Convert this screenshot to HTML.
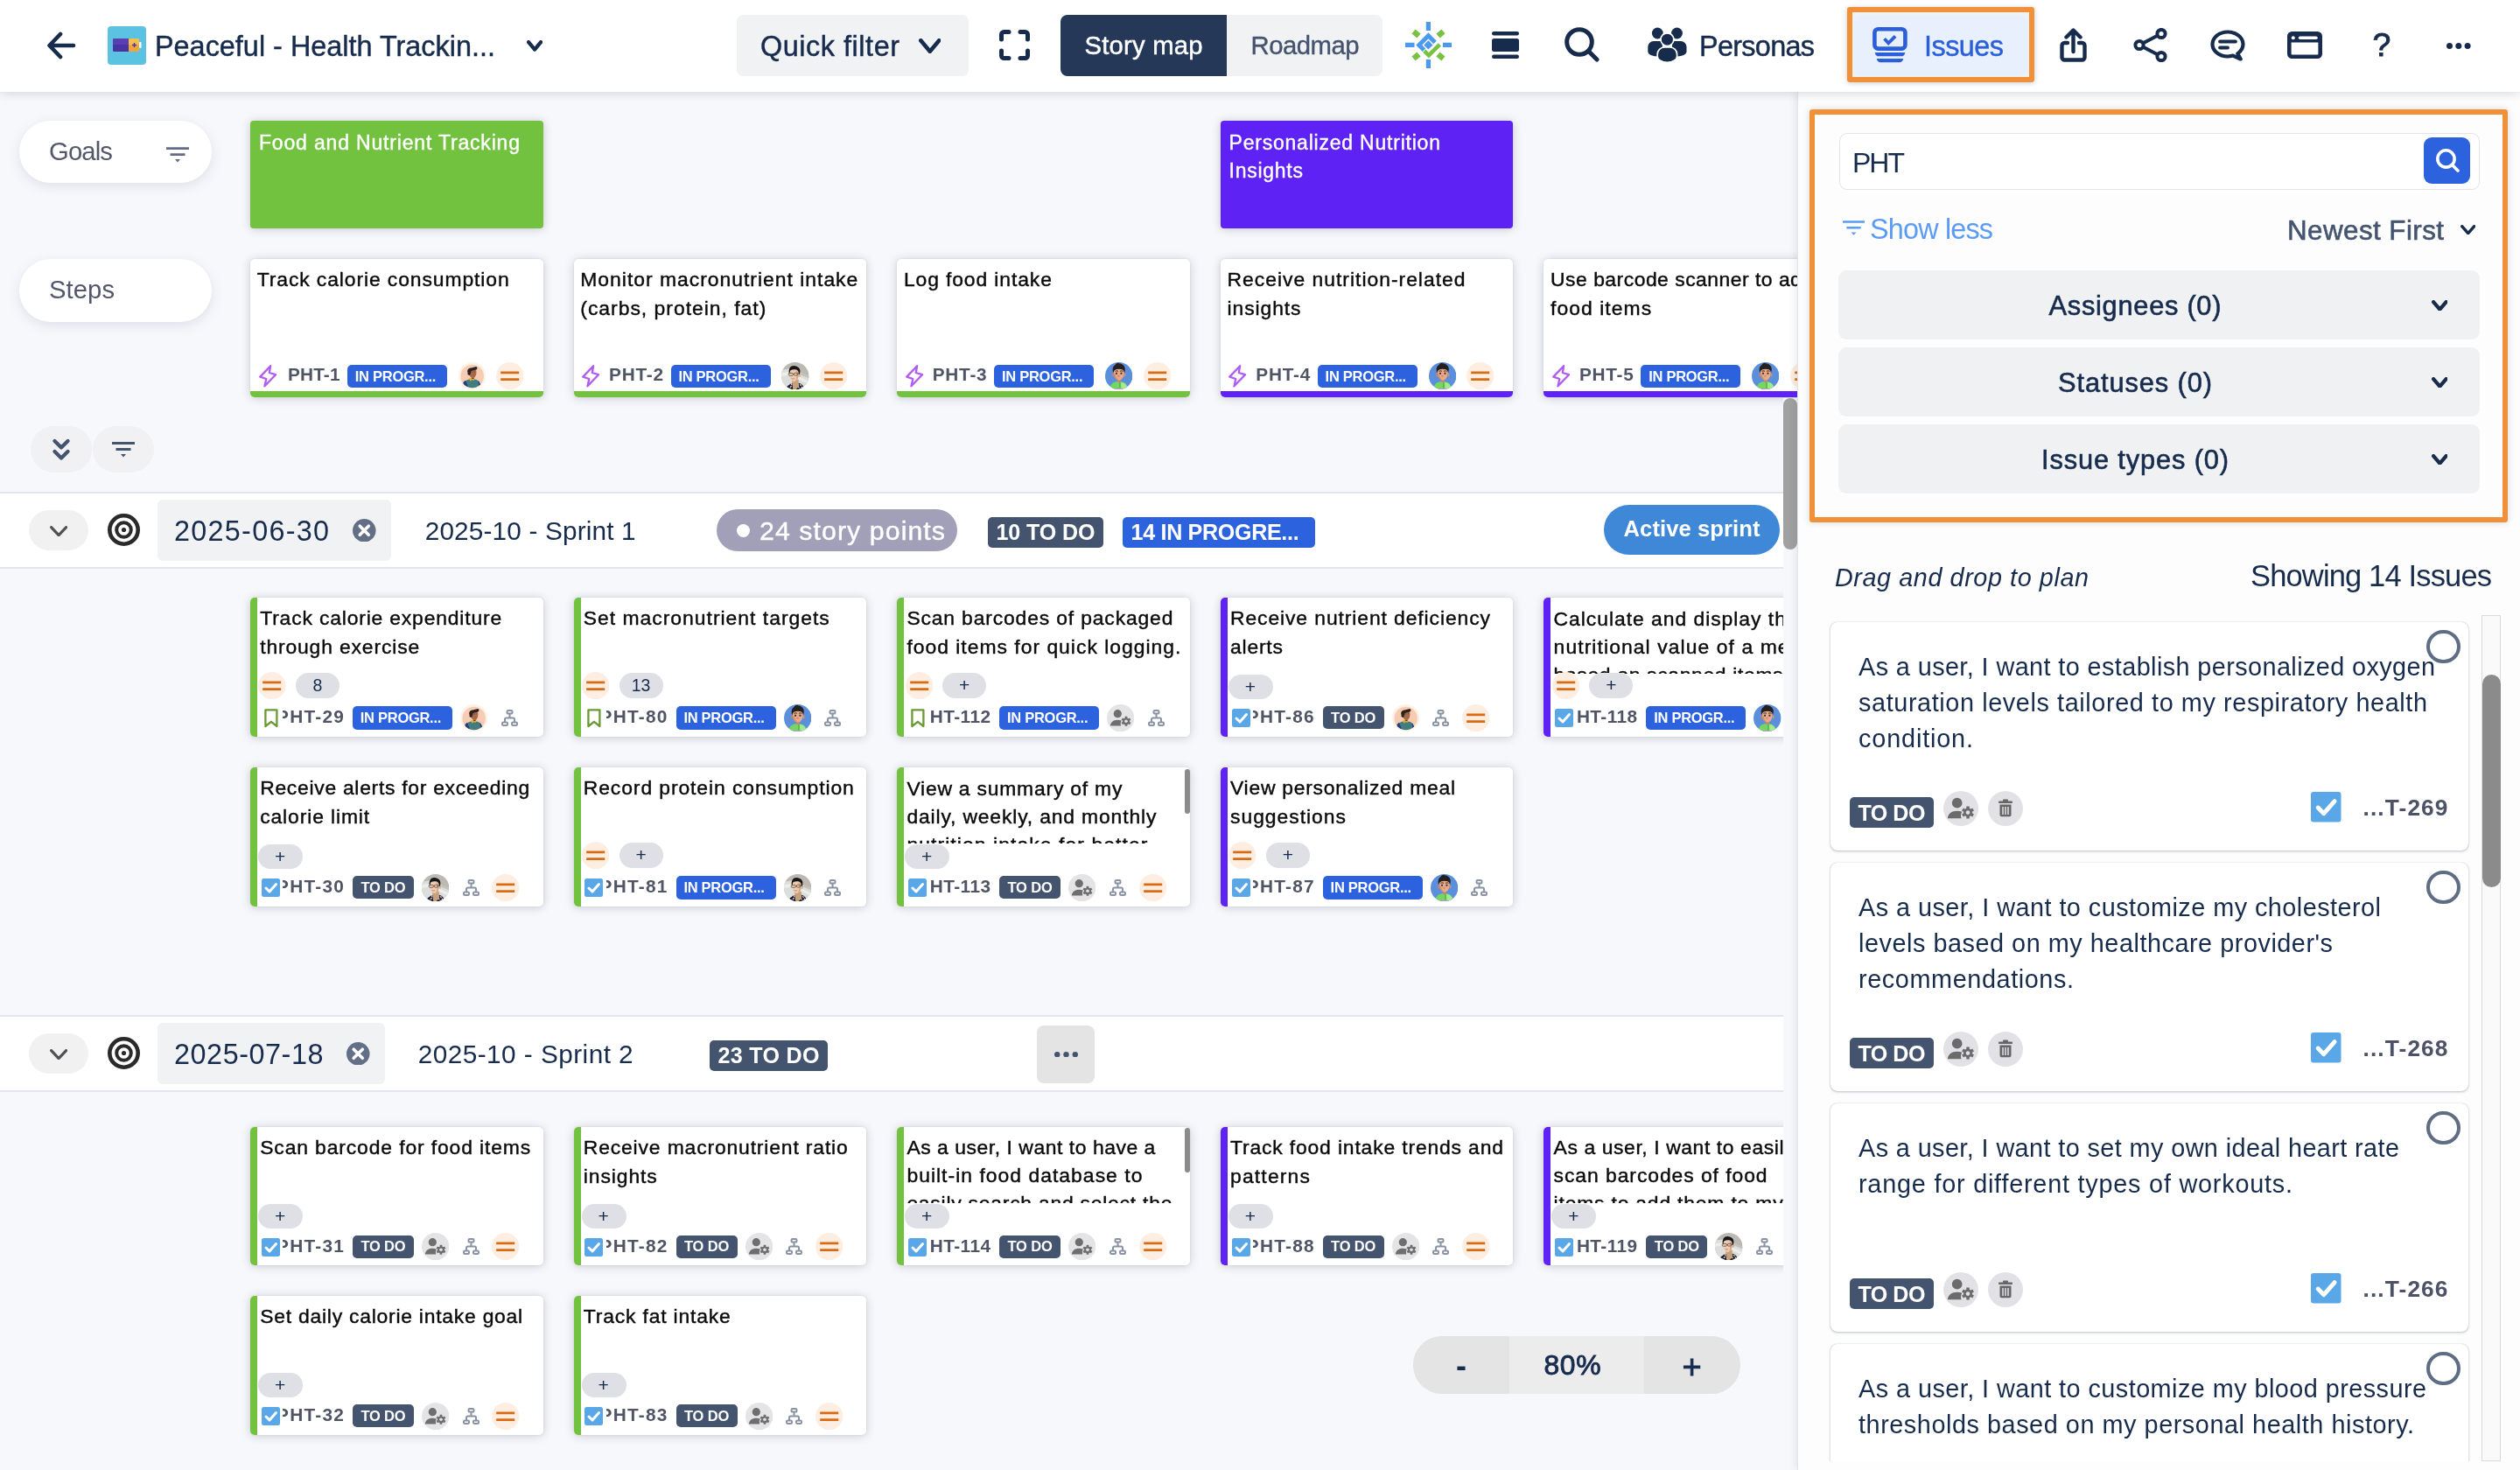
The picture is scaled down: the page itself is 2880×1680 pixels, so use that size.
<!DOCTYPE html>
<html lang="en"><head><meta charset="utf-8"><title>Story map - Peaceful - Health Tracking</title>
<style>
html,body{margin:0;padding:0;overflow:hidden}
@media (max-width:2000px){#root{transform:scale(.5);transform-origin:0 0}}
body{width:2880px;height:1680px;overflow:hidden;position:relative;background:#f7f8fc;font-family:"Liberation Sans", sans-serif;}
.a{position:absolute;display:block}
.t{position:absolute;white-space:nowrap}
#root{position:absolute;left:0;top:0;width:2880px;height:1680px;overflow:hidden;will-change:transform}
</style></head><body>
<div id="root">
<div class="a" style="left:22.0px;top:138.0px;width:220.0px;height:71.3px;background:#fff;border-radius:36px;box-shadow:0 4px 14px rgba(60,70,110,.13);"></div>
<div class="t" style="top:159.33px;font-size:29.259999999999998px;line-height:29.259999999999998px;color:#53576b;letter-spacing:-0.855px;left:56.0px;">Goals</div>
<svg class="a" style="left:190.0px;top:168.0px;" width="26.0" height="18.0" viewBox="0 0 26 18.0"><path d="M0 1.6H26.0M4.5 8.6H21.5" stroke="#626d86" stroke-width="2.7"/><path d="M10.0 14.0h6.0l-3.0 3.5z" fill="#626d86"/></svg>
<div class="a" style="left:22.0px;top:296.0px;width:220.0px;height:72.0px;background:#fff;border-radius:36px;box-shadow:0 4px 14px rgba(60,70,110,.13);"></div>
<div class="t" style="top:317.43px;font-size:29.259999999999998px;line-height:29.259999999999998px;color:#53576b;letter-spacing:0.051px;left:56.0px;">Steps</div>
<div class="a" style="left:286.0px;top:138.0px;width:334.5px;height:123.0px;background:#72c240;border-radius:4px;box-shadow:0 1px 11px rgba(30,35,60,.22), 0 0 2px rgba(30,35,60,.10);"></div>
<div class="t" style="top:151.93px;font-size:23px;line-height:23px;color:#fff;letter-spacing:0.823px;left:296.0px;-webkit-text-stroke:0.4px currentColor;">Food and Nutrient Tracking</div>
<div class="a" style="left:1394.8px;top:138.0px;width:334.5px;height:123.0px;background:#5e22f4;border-radius:4px;box-shadow:0 1px 11px rgba(30,35,60,.22), 0 0 2px rgba(30,35,60,.10);"></div>
<div class="t" style="top:151.93px;font-size:23px;line-height:23px;color:#fff;letter-spacing:0.785px;left:1404.5px;-webkit-text-stroke:0.4px currentColor;">Personalized Nutrition</div>
<div class="t" style="top:184.33px;font-size:23px;line-height:23px;color:#fff;letter-spacing:0.748px;left:1404.5px;-webkit-text-stroke:0.4px currentColor;">Insights</div>
<div class="a" style="left:286.0px;top:296.0px;width:334.5px;height:158.0px;background:#fff;border-radius:5px;box-shadow:0 1px 11px rgba(30,35,60,.22), 0 0 2px rgba(30,35,60,.10);overflow:hidden;"><div class="a" style="left:0;bottom:0;width:100%;height:7px;background:#72c240"></div></div>
<div class="t" style="top:308.02px;font-size:22.9px;line-height:22.9px;color:#0a0a0a;letter-spacing:0.903px;left:293.7px;-webkit-text-stroke:0.4px currentColor;">Track calorie consumption</div>
<svg class="a" style="left:295.5px;top:417.0px;" width="21.0" height="26.0" viewBox="0 0 21 26"><path d="M13.100 1.200L1.300 13.600L8.300 16L6.500 24.300L19 11.200L11.800 9Z" fill="none" stroke="#b05cf0" stroke-width="2.300" stroke-linejoin="round"/></svg>
<div class="t" style="top:418.19px;font-size:20.8px;line-height:20.8px;color:#505565;font-weight:700;letter-spacing:0.137px;left:329.0px;">PHT-1</div>
<div class="a" style="left:397.0px;top:417.0px;width:114.0px;height:26.0px;background:#2c62dd;border-radius:5px;"></div>
<div class="t" style="top:421.89px;font-size:16.5px;line-height:16.5px;color:#fff;font-weight:700;letter-spacing:-0.284px;left:405.8px;">IN PROGR...</div>
<svg class="a" style="left:523.7px;top:413.7px;" width="31.4" height="31.4" viewBox="148 156 1144 1144"><defs><clipPath id="a1"><circle cx="720" cy="738" r="482"/></clipPath></defs><circle cx="720" cy="728" r="572" fill="#fdf2e6"/><circle cx="720" cy="738" r="482" fill="#f7ccb2"/><g clip-path="url(#a1)"><path d="M300 1300C310 1040 420 890 620 870L820 870C980 890 1060 1000 1100 1300Z" fill="#417d80"/><path d="M300 1100C340 1000 390 940 440 915L540 1160L420 1230Z" fill="#2b3b80"/><path d="M960 915C1010 960 1050 1040 1070 1120L1000 1130Z" fill="#2b3b80"/><path d="M580 850L650 950L710 885L780 925L830 850L760 810L640 810Z" fill="#e6aa30"/><path d="M690 800L800 800L770 850L720 850Z" fill="#3a2a22"/><path d="M640 500C700 460 820 450 880 480C900 560 900 640 860 720C830 790 780 830 720 820C660 800 610 730 600 660C610 600 620 540 640 500Z" fill="#a9694a"/><path d="M690 560h60M790 550h50" stroke="#3a2a22" stroke-width="14"/><path d="M760 700c30 10 60 0 80-15" stroke="#8a4f38" stroke-width="12" fill="none"/><path d="M520 560C510 470 560 410 650 395C740 385 800 350 870 335C920 340 940 370 925 420C905 460 880 480 820 485C760 490 700 505 675 530C665 590 660 640 620 700C570 700 540 680 525 640C545 620 530 590 520 560Z" fill="#2a221e"/></g></svg>
<svg class="a" style="left:567.3px;top:413.7px;" width="31.4" height="31.4" viewBox="0 0 31.4 31.4"><circle cx="15.7" cy="15.7" r="15.7" fill="#fdeee1"/><path d="M5.199999999999999 11.799999999999999H26.2M5.199999999999999 19.599999999999998H26.2" stroke="#d96b14" stroke-width="2.700"/></svg>
<div class="a" style="left:655.6px;top:296.0px;width:334.5px;height:158.0px;background:#fff;border-radius:5px;box-shadow:0 1px 11px rgba(30,35,60,.22), 0 0 2px rgba(30,35,60,.10);overflow:hidden;"><div class="a" style="left:0;bottom:0;width:100%;height:7px;background:#72c240"></div></div>
<div class="t" style="top:308.02px;font-size:22.9px;line-height:22.9px;color:#0a0a0a;letter-spacing:0.997px;left:663.3px;-webkit-text-stroke:0.4px currentColor;">Monitor macronutrient intake</div>
<div class="t" style="top:341.02px;font-size:22.9px;line-height:22.9px;color:#0a0a0a;letter-spacing:0.995px;left:663.3px;-webkit-text-stroke:0.4px currentColor;">(carbs, protein, fat)</div>
<svg class="a" style="left:665.1px;top:417.0px;" width="21.0" height="26.0" viewBox="0 0 21 26"><path d="M13.100 1.200L1.300 13.600L8.300 16L6.500 24.300L19 11.200L11.800 9Z" fill="none" stroke="#b05cf0" stroke-width="2.300" stroke-linejoin="round"/></svg>
<div class="t" style="top:418.19px;font-size:20.8px;line-height:20.8px;color:#505565;font-weight:700;letter-spacing:0.762px;left:696.1px;">PHT-2</div>
<div class="a" style="left:766.6px;top:417.0px;width:114.0px;height:26.0px;background:#2c62dd;border-radius:5px;"></div>
<div class="t" style="top:421.89px;font-size:16.5px;line-height:16.5px;color:#fff;font-weight:700;letter-spacing:-0.284px;left:775.4px;">IN PROGR...</div>
<svg class="a" style="left:893.3px;top:413.7px;" width="31.4" height="31.4" viewBox="147 147 1176 1176"><defs><clipPath id="b2"><circle cx="735" cy="735" r="588"/></clipPath></defs><g clip-path="url(#b2)"><rect x="140" y="140" width="1200" height="1200" fill="#bbb9b2"/><path d="M140 480L520 420L1340 760L1340 1340L140 1340Z" fill="#dcdedb"/><path d="M140 600L500 560L1340 980L1340 1100L480 700L140 740Z" fill="#eceeeb"/><path d="M980 700L1340 840L1340 760L1000 600Z" fill="#c4c2bb"/><path d="M340 1340C350 1180 450 1090 600 1050L900 1040C1040 1080 1110 1180 1130 1340Z" fill="#22202c"/><path d="M420 1130l70-50M520 1230l60-70M560 1060l40 60M930 1100l70 40M1000 1200l60 30M860 1180l50 60M440 1260l50 40" stroke="#e9e6ee" stroke-width="42"/><path d="M600 930L880 880L900 1180L760 1320L640 1300Z" fill="#c9a07c"/><path d="M900 620c50-10 80 30 70 90c-10 50-40 80-70 70z" fill="#d9ae8e"/><path d="M500 560C500 470 600 420 720 430C840 440 910 520 900 640C890 800 820 960 690 970C580 960 500 820 490 700Z" fill="#eccbb0"/><path d="M760 500C860 520 900 600 890 700C880 820 820 930 740 960C800 860 820 700 760 500Z" fill="#d6a988"/><path d="M480 640C450 520 480 380 580 320C680 270 820 300 900 390C960 450 960 560 930 660L890 650C890 560 860 500 790 470C700 450 600 460 540 490C510 530 510 590 500 640Z" fill="#17161a"/><g fill="none" stroke="#4b3c37" stroke-width="26"><rect x="455" y="612" width="190" height="105" rx="36"/><rect x="690" y="610" width="150" height="100" rx="34"/><path d="M645 650h45M840 640l70-10"/></g><path d="M580 840c40 25 90 25 130 0" stroke="#c9707a" stroke-width="30" fill="none"/></g></svg>
<svg class="a" style="left:936.9px;top:413.7px;" width="31.4" height="31.4" viewBox="0 0 31.4 31.4"><circle cx="15.7" cy="15.7" r="15.7" fill="#fdeee1"/><path d="M5.199999999999999 11.799999999999999H26.2M5.199999999999999 19.599999999999998H26.2" stroke="#d96b14" stroke-width="2.700"/></svg>
<div class="a" style="left:1025.2px;top:296.0px;width:334.5px;height:158.0px;background:#fff;border-radius:5px;box-shadow:0 1px 11px rgba(30,35,60,.22), 0 0 2px rgba(30,35,60,.10);overflow:hidden;"><div class="a" style="left:0;bottom:0;width:100%;height:7px;background:#72c240"></div></div>
<div class="t" style="top:308.02px;font-size:22.9px;line-height:22.9px;color:#0a0a0a;letter-spacing:0.890px;left:1032.9px;-webkit-text-stroke:0.4px currentColor;">Log food intake</div>
<svg class="a" style="left:1034.7px;top:417.0px;" width="21.0" height="26.0" viewBox="0 0 21 26"><path d="M13.100 1.200L1.300 13.600L8.300 16L6.500 24.300L19 11.200L11.800 9Z" fill="none" stroke="#b05cf0" stroke-width="2.300" stroke-linejoin="round"/></svg>
<div class="t" style="top:418.19px;font-size:20.8px;line-height:20.8px;color:#505565;font-weight:700;letter-spacing:0.762px;left:1065.7px;">PHT-3</div>
<div class="a" style="left:1136.2px;top:417.0px;width:114.0px;height:26.0px;background:#2c62dd;border-radius:5px;"></div>
<div class="t" style="top:421.89px;font-size:16.5px;line-height:16.5px;color:#fff;font-weight:700;letter-spacing:-0.284px;left:1145.0px;">IN PROGR...</div>
<svg class="a" style="left:1262.9px;top:413.7px;" width="31.4" height="31.4" viewBox="177 157 1156 1156"><defs><clipPath id="c3"><circle cx="755" cy="735" r="578"/></clipPath></defs><g clip-path="url(#c3)"><rect x="170" y="150" width="1180" height="1180" fill="#5b8fdb"/><path d="M500 1340C510 1280 540 1250 600 1240L920 1240C980 1250 1010 1280 1020 1340Z" fill="#cf8ae6"/><path d="M590 1000L760 940L910 1000L900 1040L600 1040Z" fill="#c98be2"/><path d="M390 1250C400 1100 480 1010 620 990L890 990C1030 1010 1100 1100 1110 1250C1000 1270 500 1270 390 1250Z" fill="#74d760"/><path d="M840 1000C1000 1010 1090 1100 1105 1250C1040 1262 950 1266 860 1268Z" fill="#a2ea8f"/><path d="M800 1000v250" stroke="#4fa14a" stroke-width="36"/><path d="M700 870h130v110l-65 40l-65-40z" fill="#c88661"/><ellipse cx="505" cy="690" rx="38" ry="72" fill="#cf7f58"/><ellipse cx="1005" cy="690" rx="38" ry="72" fill="#d98d65"/><path d="M545 560C545 450 640 400 760 400C880 400 975 450 975 560C975 760 900 910 760 915C620 910 545 760 545 560Z" fill="#e9aa88"/><path d="M560 640C540 800 640 910 760 915C700 880 620 800 600 640Z" fill="#d58f6c"/><path d="M520 600C470 470 500 330 600 270C640 200 720 170 760 200C860 200 960 260 1000 360C1030 450 1010 540 990 600L960 520C930 470 880 440 760 440C650 440 590 470 555 520Z" fill="#222021"/><path d="M600 540c40-25 90-25 130 0M800 540c40-25 90-25 130 0" stroke="#2a201c" stroke-width="34" fill="none"/><rect x="618" y="588" width="76" height="74" rx="14" fill="#3a3236"/><rect x="818" y="588" width="76" height="74" rx="14" fill="#3a3236"/><ellipse cx="745" cy="735" rx="50" ry="32" fill="#dc8166"/></g></svg>
<svg class="a" style="left:1306.5px;top:413.7px;" width="31.4" height="31.4" viewBox="0 0 31.4 31.4"><circle cx="15.7" cy="15.7" r="15.7" fill="#fdeee1"/><path d="M5.199999999999999 11.799999999999999H26.2M5.199999999999999 19.599999999999998H26.2" stroke="#d96b14" stroke-width="2.700"/></svg>
<div class="a" style="left:1394.8px;top:296.0px;width:334.5px;height:158.0px;background:#fff;border-radius:5px;box-shadow:0 1px 11px rgba(30,35,60,.22), 0 0 2px rgba(30,35,60,.10);overflow:hidden;"><div class="a" style="left:0;bottom:0;width:100%;height:7px;background:#5e22f4"></div></div>
<div class="t" style="top:308.02px;font-size:22.9px;line-height:22.9px;color:#0a0a0a;letter-spacing:0.995px;left:1402.5px;-webkit-text-stroke:0.4px currentColor;">Receive nutrition-related</div>
<div class="t" style="top:341.02px;font-size:22.9px;line-height:22.9px;color:#0a0a0a;letter-spacing:0.911px;left:1402.5px;-webkit-text-stroke:0.4px currentColor;">insights</div>
<svg class="a" style="left:1404.3px;top:417.0px;" width="21.0" height="26.0" viewBox="0 0 21 26"><path d="M13.100 1.200L1.300 13.600L8.300 16L6.500 24.300L19 11.200L11.800 9Z" fill="none" stroke="#b05cf0" stroke-width="2.300" stroke-linejoin="round"/></svg>
<div class="t" style="top:418.19px;font-size:20.8px;line-height:20.8px;color:#505565;font-weight:700;letter-spacing:0.762px;left:1435.3px;">PHT-4</div>
<div class="a" style="left:1505.8px;top:417.0px;width:114.0px;height:26.0px;background:#2c62dd;border-radius:5px;"></div>
<div class="t" style="top:421.89px;font-size:16.5px;line-height:16.5px;color:#fff;font-weight:700;letter-spacing:-0.284px;left:1514.6px;">IN PROGR...</div>
<svg class="a" style="left:1632.5px;top:413.7px;" width="31.4" height="31.4" viewBox="177 157 1156 1156"><defs><clipPath id="c4"><circle cx="755" cy="735" r="578"/></clipPath></defs><g clip-path="url(#c4)"><rect x="170" y="150" width="1180" height="1180" fill="#5b8fdb"/><path d="M500 1340C510 1280 540 1250 600 1240L920 1240C980 1250 1010 1280 1020 1340Z" fill="#cf8ae6"/><path d="M590 1000L760 940L910 1000L900 1040L600 1040Z" fill="#c98be2"/><path d="M390 1250C400 1100 480 1010 620 990L890 990C1030 1010 1100 1100 1110 1250C1000 1270 500 1270 390 1250Z" fill="#74d760"/><path d="M840 1000C1000 1010 1090 1100 1105 1250C1040 1262 950 1266 860 1268Z" fill="#a2ea8f"/><path d="M800 1000v250" stroke="#4fa14a" stroke-width="36"/><path d="M700 870h130v110l-65 40l-65-40z" fill="#c88661"/><ellipse cx="505" cy="690" rx="38" ry="72" fill="#cf7f58"/><ellipse cx="1005" cy="690" rx="38" ry="72" fill="#d98d65"/><path d="M545 560C545 450 640 400 760 400C880 400 975 450 975 560C975 760 900 910 760 915C620 910 545 760 545 560Z" fill="#e9aa88"/><path d="M560 640C540 800 640 910 760 915C700 880 620 800 600 640Z" fill="#d58f6c"/><path d="M520 600C470 470 500 330 600 270C640 200 720 170 760 200C860 200 960 260 1000 360C1030 450 1010 540 990 600L960 520C930 470 880 440 760 440C650 440 590 470 555 520Z" fill="#222021"/><path d="M600 540c40-25 90-25 130 0M800 540c40-25 90-25 130 0" stroke="#2a201c" stroke-width="34" fill="none"/><rect x="618" y="588" width="76" height="74" rx="14" fill="#3a3236"/><rect x="818" y="588" width="76" height="74" rx="14" fill="#3a3236"/><ellipse cx="745" cy="735" rx="50" ry="32" fill="#dc8166"/></g></svg>
<svg class="a" style="left:1676.1px;top:413.7px;" width="31.4" height="31.4" viewBox="0 0 31.4 31.4"><circle cx="15.7" cy="15.7" r="15.7" fill="#fdeee1"/><path d="M5.199999999999999 11.799999999999999H26.2M5.199999999999999 19.599999999999998H26.2" stroke="#d96b14" stroke-width="2.700"/></svg>
<div class="a" style="left:1764.4px;top:296.0px;width:334.5px;height:158.0px;background:#fff;border-radius:5px;box-shadow:0 1px 11px rgba(30,35,60,.22), 0 0 2px rgba(30,35,60,.10);overflow:hidden;"><div class="a" style="left:0;bottom:0;width:100%;height:7px;background:#5e22f4"></div></div>
<div class="t" style="top:308.02px;font-size:22.9px;line-height:22.9px;color:#0a0a0a;letter-spacing:0.496px;left:1772.1px;-webkit-text-stroke:0.4px currentColor;">Use barcode scanner to add</div>
<div class="t" style="top:341.02px;font-size:22.9px;line-height:22.9px;color:#0a0a0a;letter-spacing:1.043px;left:1772.1px;-webkit-text-stroke:0.4px currentColor;">food items</div>
<svg class="a" style="left:1773.9px;top:417.0px;" width="21.0" height="26.0" viewBox="0 0 21 26"><path d="M13.100 1.200L1.300 13.600L8.300 16L6.500 24.300L19 11.200L11.800 9Z" fill="none" stroke="#b05cf0" stroke-width="2.300" stroke-linejoin="round"/></svg>
<div class="t" style="top:418.19px;font-size:20.8px;line-height:20.8px;color:#505565;font-weight:700;letter-spacing:0.762px;left:1804.9px;">PHT-5</div>
<div class="a" style="left:1875.4px;top:417.0px;width:114.0px;height:26.0px;background:#2c62dd;border-radius:5px;"></div>
<div class="t" style="top:421.89px;font-size:16.5px;line-height:16.5px;color:#fff;font-weight:700;letter-spacing:-0.284px;left:1884.2px;">IN PROGR...</div>
<svg class="a" style="left:2002.1px;top:413.7px;" width="31.4" height="31.4" viewBox="177 157 1156 1156"><defs><clipPath id="c5"><circle cx="755" cy="735" r="578"/></clipPath></defs><g clip-path="url(#c5)"><rect x="170" y="150" width="1180" height="1180" fill="#5b8fdb"/><path d="M500 1340C510 1280 540 1250 600 1240L920 1240C980 1250 1010 1280 1020 1340Z" fill="#cf8ae6"/><path d="M590 1000L760 940L910 1000L900 1040L600 1040Z" fill="#c98be2"/><path d="M390 1250C400 1100 480 1010 620 990L890 990C1030 1010 1100 1100 1110 1250C1000 1270 500 1270 390 1250Z" fill="#74d760"/><path d="M840 1000C1000 1010 1090 1100 1105 1250C1040 1262 950 1266 860 1268Z" fill="#a2ea8f"/><path d="M800 1000v250" stroke="#4fa14a" stroke-width="36"/><path d="M700 870h130v110l-65 40l-65-40z" fill="#c88661"/><ellipse cx="505" cy="690" rx="38" ry="72" fill="#cf7f58"/><ellipse cx="1005" cy="690" rx="38" ry="72" fill="#d98d65"/><path d="M545 560C545 450 640 400 760 400C880 400 975 450 975 560C975 760 900 910 760 915C620 910 545 760 545 560Z" fill="#e9aa88"/><path d="M560 640C540 800 640 910 760 915C700 880 620 800 600 640Z" fill="#d58f6c"/><path d="M520 600C470 470 500 330 600 270C640 200 720 170 760 200C860 200 960 260 1000 360C1030 450 1010 540 990 600L960 520C930 470 880 440 760 440C650 440 590 470 555 520Z" fill="#222021"/><path d="M600 540c40-25 90-25 130 0M800 540c40-25 90-25 130 0" stroke="#2a201c" stroke-width="34" fill="none"/><rect x="618" y="588" width="76" height="74" rx="14" fill="#3a3236"/><rect x="818" y="588" width="76" height="74" rx="14" fill="#3a3236"/><ellipse cx="745" cy="735" rx="50" ry="32" fill="#dc8166"/></g></svg>
<svg class="a" style="left:2045.7px;top:413.7px;" width="31.4" height="31.4" viewBox="0 0 31.4 31.4"><circle cx="15.7" cy="15.7" r="15.7" fill="#fdeee1"/><path d="M5.199999999999999 11.799999999999999H26.2M5.199999999999999 19.599999999999998H26.2" stroke="#d96b14" stroke-width="2.700"/></svg>
<div class="a" style="left:35.0px;top:487.0px;width:70.0px;height:53.0px;background:#f1f1f3;border-radius:27px;"></div>
<svg class="a" style="left:60.0px;top:500.5px;" width="20.0" height="26.0" viewBox="0 0 20 26"><path d="M2.500 3L10 10.500L17.500 3M2.500 15L10 22.500L17.500 15" fill="none" stroke="#44546f" stroke-width="4.2" stroke-linecap="round" stroke-linejoin="round"/></svg>
<div class="a" style="left:106.0px;top:487.0px;width:70.0px;height:53.0px;background:#f1f1f3;border-radius:27px;"></div>
<svg class="a" style="left:128.0px;top:505.0px;" width="26.0" height="18.0" viewBox="0 0 26 18.0"><path d="M0 1.6H26.0M4.5 8.6H21.5" stroke="#44546f" stroke-width="3"/><path d="M10.0 14.0h6.0l-3.0 3.5z" fill="#44546f"/></svg>
<div class="a" style="left:0.0px;top:562.0px;width:2038.0px;height:87.6px;background:#fff;border-top:2px solid #e1e5ef;border-bottom:2px solid #e1e5ef;box-sizing:border-box;"></div>
<div class="a" style="left:33.0px;top:583.0px;width:68.0px;height:46.0px;background:#f1f1f1;border-radius:23px;"></div>
<svg class="a" style="left:56.5px;top:600.5px;" width="20.2" height="12.2" viewBox="0 0 20.2 12.2"><path d="M1.6 1.6L10.1 10.6L18.6 1.6" fill="none" stroke="#505258" stroke-width="3.2" stroke-linecap="round" stroke-linejoin="round"/></svg>
<svg class="a" style="left:123.0px;top:587.0px;" width="37.0" height="37.0" viewBox="0 0 37 37"><circle cx="18.500" cy="18.500" r="16.200" fill="none" stroke="#2a2a2a" stroke-width="4.600"/><circle cx="18.500" cy="18.500" r="8.300" fill="none" stroke="#2a2a2a" stroke-width="4"/><circle cx="18.500" cy="18.500" r="2.600" fill="#2a2a2a"/></svg>
<div class="a" style="left:180.0px;top:571.0px;width:267.0px;height:70.0px;background:#f1f2f4;border-radius:6px;"></div>
<div class="t" style="top:590.88px;font-size:32.394999999999996px;line-height:32.394999999999996px;color:#172b4d;letter-spacing:1.266px;left:199.0px;">2025-06-30</div>
<svg class="a" style="left:403.4px;top:592.8px;" width="26.5" height="26.5" viewBox="0 0 26.5 26.5"><circle cx="13.25" cy="13.25" r="13.25" fill="#626f86"/><path d="M8.215 8.215L18.285 18.285M18.285 8.215L8.215 18.285" stroke="#fff" stroke-width="3.6" stroke-linecap="round"/></svg>
<div class="t" style="top:591.79px;font-size:29.7825px;line-height:29.7825px;color:#172b4d;letter-spacing:0.160px;left:485.7px;">2025-10 - Sprint 1</div>
<div class="a" style="left:819.0px;top:581.5px;width:275.0px;height:48.5px;background:#a1a0b8;border-radius:25px;"></div>
<div class="a" style="left:842.0px;top:599.0px;width:14.5px;height:14.5px;background:#fff;border-radius:8px;"></div>
<div class="t" style="top:591.85px;font-size:30.305px;line-height:30.305px;color:#fff;letter-spacing:1.068px;left:868.0px;-webkit-text-stroke:0.4px currentColor;">24 story points</div>
<div class="a" style="left:1129.0px;top:591.0px;width:132.0px;height:35.0px;background:#44546f;border-radius:5px;"></div>
<div class="t" style="top:596.17px;font-size:25.08px;line-height:25.08px;color:#fff;font-weight:700;letter-spacing:-0.118px;left:1138.5px;">10 TO DO</div>
<div class="a" style="left:1283.0px;top:591.0px;width:220.0px;height:35.0px;background:#2c62dd;border-radius:5px;"></div>
<div class="t" style="top:596.17px;font-size:25.08px;line-height:25.08px;color:#fff;font-weight:700;letter-spacing:-0.321px;left:1292.6px;">14 IN PROGRE...</div>
<div class="a" style="left:1833.0px;top:577.0px;width:201.0px;height:57.0px;background:#3f88d8;border-radius:29px;"></div>
<div class="t" style="top:592.33px;font-size:25.6025px;line-height:25.6025px;color:#fff;font-weight:700;letter-spacing:0.081px;left:1855.5px;">Active sprint</div>
<div class="a" style="left:0.0px;top:1160.0px;width:2038.0px;height:87.6px;background:#fff;border-top:2px solid #e1e5ef;border-bottom:2px solid #e1e5ef;box-sizing:border-box;"></div>
<div class="a" style="left:33.0px;top:1181.0px;width:68.0px;height:46.0px;background:#f1f1f1;border-radius:23px;"></div>
<svg class="a" style="left:56.5px;top:1198.5px;" width="20.2" height="12.2" viewBox="0 0 20.2 12.2"><path d="M1.6 1.6L10.1 10.6L18.6 1.6" fill="none" stroke="#505258" stroke-width="3.2" stroke-linecap="round" stroke-linejoin="round"/></svg>
<svg class="a" style="left:123.0px;top:1185.0px;" width="37.0" height="37.0" viewBox="0 0 37 37"><circle cx="18.500" cy="18.500" r="16.200" fill="none" stroke="#2a2a2a" stroke-width="4.600"/><circle cx="18.500" cy="18.500" r="8.300" fill="none" stroke="#2a2a2a" stroke-width="4"/><circle cx="18.500" cy="18.500" r="2.600" fill="#2a2a2a"/></svg>
<div class="a" style="left:180.0px;top:1169.0px;width:260.0px;height:70.0px;background:#f1f2f4;border-radius:6px;"></div>
<div class="t" style="top:1188.88px;font-size:32.394999999999996px;line-height:32.394999999999996px;color:#172b4d;letter-spacing:0.543px;left:199.0px;">2025-07-18</div>
<svg class="a" style="left:396.4px;top:1190.8px;" width="26.5" height="26.5" viewBox="0 0 26.5 26.5"><circle cx="13.25" cy="13.25" r="13.25" fill="#626f86"/><path d="M8.215 8.215L18.285 18.285M18.285 8.215L8.215 18.285" stroke="#fff" stroke-width="3.6" stroke-linecap="round"/></svg>
<div class="t" style="top:1189.79px;font-size:29.7825px;line-height:29.7825px;color:#172b4d;letter-spacing:0.454px;left:477.7px;">2025-10 - Sprint 2</div>
<div class="a" style="left:811.0px;top:1189.0px;width:135.0px;height:35.0px;background:#44546f;border-radius:5px;"></div>
<div class="t" style="top:1194.17px;font-size:25.08px;line-height:25.08px;color:#fff;font-weight:700;letter-spacing:0.310px;left:820.5px;">23 TO DO</div>
<div class="a" style="left:1185.0px;top:1172.0px;width:66.0px;height:66.0px;background:#e4e4e4;border-radius:8px;"></div>
<svg class="a" style="left:1204.5px;top:1202.0px;" width="27.0" height="6.4" viewBox="0 0 27.0 6.4"><circle cx="3.2" cy="3.2" r="3.2" fill="#44546f"/><circle cx="13.5" cy="3.2" r="3.2" fill="#44546f"/><circle cx="23.8" cy="3.2" r="3.2" fill="#44546f"/></svg>
<div class="a" style="left:286.0px;top:683.0px;width:334.5px;height:158.7px;background:#fff;border-radius:5px;box-shadow:0 1px 11px rgba(30,35,60,.22), 0 0 2px rgba(30,35,60,.10);"></div>
<div class="a" style="left:286.0px;top:683.0px;width:8.0px;height:158.7px;background:#72c240;border-radius:5px 0 0 5px;"></div>
<div class="a" style="left:294.0px;top:687.0px;width:326.5px;height:83px;overflow:hidden">
<div class="t" style="top:8.22px;font-size:22.9px;line-height:22.9px;color:#0a0a0a;letter-spacing:0.827px;left:3.2px;-webkit-text-stroke:0.4px currentColor;">Track calorie expenditure</div>
<div class="t" style="top:41.42px;font-size:22.9px;line-height:22.9px;color:#0a0a0a;letter-spacing:0.851px;left:3.2px;-webkit-text-stroke:0.4px currentColor;">through exercise</div>
</div>
<svg class="a" style="left:295.3px;top:767.6px;" width="31.4" height="31.4" viewBox="0 0 31.4 31.4"><circle cx="15.7" cy="15.7" r="15.7" fill="#fdeee1"/><path d="M5.199999999999999 11.799999999999999H26.2M5.199999999999999 19.599999999999998H26.2" stroke="#d96b14" stroke-width="2.700"/></svg>
<div class="a" style="left:338.0px;top:769.0px;width:50.0px;height:28.5px;background:#dfe0e6;border-radius:15px;"></div>
<div class="t" style="top:773.69px;font-size:19.5px;line-height:19.5px;color:#172b4d;left:357.6px;">8</div>
<svg class="a" style="left:301.5px;top:809.5px;" width="16.0" height="22.0" viewBox="0 0 16 22"><path d="M1.400 1.400H14.400V20L7.900 14.800L1.400 20Z" fill="none" stroke="#6a9a32" stroke-width="2.300" stroke-linejoin="round"/></svg>
<div class="a" style="left:323.0px;top:805.0px;width:69.8px;height:32px;overflow:hidden">
<div class="t" style="top:4.19px;font-size:20.8px;line-height:20.8px;color:#505565;font-weight:700;letter-spacing:1.257px;left:-7.0px;">PHT-29</div>
</div>
<div class="a" style="left:403.0px;top:807.0px;width:114.0px;height:27.0px;background:#2c62dd;border-radius:5px;"></div>
<div class="t" style="top:812.39px;font-size:16.5px;line-height:16.5px;color:#fff;font-weight:700;letter-spacing:-0.284px;left:411.8px;">IN PROGR...</div>
<svg class="a" style="left:525.9px;top:804.5px;" width="31.4" height="31.4" viewBox="148 156 1144 1144"><defs><clipPath id="a6"><circle cx="720" cy="738" r="482"/></clipPath></defs><circle cx="720" cy="728" r="572" fill="#fdf2e6"/><circle cx="720" cy="738" r="482" fill="#f7ccb2"/><g clip-path="url(#a6)"><path d="M300 1300C310 1040 420 890 620 870L820 870C980 890 1060 1000 1100 1300Z" fill="#417d80"/><path d="M300 1100C340 1000 390 940 440 915L540 1160L420 1230Z" fill="#2b3b80"/><path d="M960 915C1010 960 1050 1040 1070 1120L1000 1130Z" fill="#2b3b80"/><path d="M580 850L650 950L710 885L780 925L830 850L760 810L640 810Z" fill="#e6aa30"/><path d="M690 800L800 800L770 850L720 850Z" fill="#3a2a22"/><path d="M640 500C700 460 820 450 880 480C900 560 900 640 860 720C830 790 780 830 720 820C660 800 610 730 600 660C610 600 620 540 640 500Z" fill="#a9694a"/><path d="M690 560h60M790 550h50" stroke="#3a2a22" stroke-width="14"/><path d="M760 700c30 10 60 0 80-15" stroke="#8a4f38" stroke-width="12" fill="none"/><path d="M520 560C510 470 560 410 650 395C740 385 800 350 870 335C920 340 940 370 925 420C905 460 880 480 820 485C760 490 700 505 675 530C665 590 660 640 620 700C570 700 540 680 525 640C545 620 530 590 520 560Z" fill="#2a221e"/></g></svg>
<svg class="a" style="left:572.6px;top:810.5px;" width="19.0" height="19.0" viewBox="0 0 19 19"><g fill="none" stroke="#8993a4" stroke-width="2"><rect x="6.500" y="1" width="6" height="3.600" rx="1.200"/><rect x="1" y="14.400" width="6" height="3.600" rx="1.200"/><rect x="12" y="14.400" width="6" height="3.600" rx="1.200"/><path d="M9.500 4.600V9.500M4 14.400V11a1.500 1.500 0 0 1 1.500-1.500h8A1.500 1.500 0 0 1 15 11v3.400"/></g></svg>
<div class="a" style="left:655.6px;top:683.0px;width:334.5px;height:158.7px;background:#fff;border-radius:5px;box-shadow:0 1px 11px rgba(30,35,60,.22), 0 0 2px rgba(30,35,60,.10);"></div>
<div class="a" style="left:655.6px;top:683.0px;width:8.0px;height:158.7px;background:#72c240;border-radius:5px 0 0 5px;"></div>
<div class="a" style="left:663.6px;top:687.0px;width:326.5px;height:83px;overflow:hidden">
<div class="t" style="top:8.22px;font-size:22.9px;line-height:22.9px;color:#0a0a0a;letter-spacing:0.999px;left:3.2px;-webkit-text-stroke:0.4px currentColor;">Set macronutrient targets</div>
</div>
<svg class="a" style="left:664.9px;top:767.6px;" width="31.4" height="31.4" viewBox="0 0 31.4 31.4"><circle cx="15.7" cy="15.7" r="15.7" fill="#fdeee1"/><path d="M5.199999999999999 11.799999999999999H26.2M5.199999999999999 19.599999999999998H26.2" stroke="#d96b14" stroke-width="2.700"/></svg>
<div class="a" style="left:707.6px;top:769.0px;width:50.0px;height:28.5px;background:#dfe0e6;border-radius:15px;"></div>
<div class="t" style="top:773.69px;font-size:19.5px;line-height:19.5px;color:#172b4d;left:721.7px;">13</div>
<svg class="a" style="left:671.1px;top:809.5px;" width="16.0" height="22.0" viewBox="0 0 16 22"><path d="M1.400 1.400H14.400V20L7.900 14.800L1.400 20Z" fill="none" stroke="#6a9a32" stroke-width="2.300" stroke-linejoin="round"/></svg>
<div class="a" style="left:692.6px;top:805.0px;width:69.8px;height:32px;overflow:hidden">
<div class="t" style="top:4.19px;font-size:20.8px;line-height:20.8px;color:#505565;font-weight:700;letter-spacing:1.257px;left:-7.0px;">PHT-80</div>
</div>
<div class="a" style="left:772.6px;top:807.0px;width:114.0px;height:27.0px;background:#2c62dd;border-radius:5px;"></div>
<div class="t" style="top:812.39px;font-size:16.5px;line-height:16.5px;color:#fff;font-weight:700;letter-spacing:-0.284px;left:781.4px;">IN PROGR...</div>
<svg class="a" style="left:895.5px;top:804.5px;" width="31.4" height="31.4" viewBox="177 157 1156 1156"><defs><clipPath id="c7"><circle cx="755" cy="735" r="578"/></clipPath></defs><g clip-path="url(#c7)"><rect x="170" y="150" width="1180" height="1180" fill="#5b8fdb"/><path d="M500 1340C510 1280 540 1250 600 1240L920 1240C980 1250 1010 1280 1020 1340Z" fill="#cf8ae6"/><path d="M590 1000L760 940L910 1000L900 1040L600 1040Z" fill="#c98be2"/><path d="M390 1250C400 1100 480 1010 620 990L890 990C1030 1010 1100 1100 1110 1250C1000 1270 500 1270 390 1250Z" fill="#74d760"/><path d="M840 1000C1000 1010 1090 1100 1105 1250C1040 1262 950 1266 860 1268Z" fill="#a2ea8f"/><path d="M800 1000v250" stroke="#4fa14a" stroke-width="36"/><path d="M700 870h130v110l-65 40l-65-40z" fill="#c88661"/><ellipse cx="505" cy="690" rx="38" ry="72" fill="#cf7f58"/><ellipse cx="1005" cy="690" rx="38" ry="72" fill="#d98d65"/><path d="M545 560C545 450 640 400 760 400C880 400 975 450 975 560C975 760 900 910 760 915C620 910 545 760 545 560Z" fill="#e9aa88"/><path d="M560 640C540 800 640 910 760 915C700 880 620 800 600 640Z" fill="#d58f6c"/><path d="M520 600C470 470 500 330 600 270C640 200 720 170 760 200C860 200 960 260 1000 360C1030 450 1010 540 990 600L960 520C930 470 880 440 760 440C650 440 590 470 555 520Z" fill="#222021"/><path d="M600 540c40-25 90-25 130 0M800 540c40-25 90-25 130 0" stroke="#2a201c" stroke-width="34" fill="none"/><rect x="618" y="588" width="76" height="74" rx="14" fill="#3a3236"/><rect x="818" y="588" width="76" height="74" rx="14" fill="#3a3236"/><ellipse cx="745" cy="735" rx="50" ry="32" fill="#dc8166"/></g></svg>
<svg class="a" style="left:942.2px;top:810.5px;" width="19.0" height="19.0" viewBox="0 0 19 19"><g fill="none" stroke="#8993a4" stroke-width="2"><rect x="6.500" y="1" width="6" height="3.600" rx="1.200"/><rect x="1" y="14.400" width="6" height="3.600" rx="1.200"/><rect x="12" y="14.400" width="6" height="3.600" rx="1.200"/><path d="M9.500 4.600V9.500M4 14.400V11a1.500 1.500 0 0 1 1.500-1.500h8A1.500 1.500 0 0 1 15 11v3.400"/></g></svg>
<div class="a" style="left:1025.2px;top:683.0px;width:334.5px;height:158.7px;background:#fff;border-radius:5px;box-shadow:0 1px 11px rgba(30,35,60,.22), 0 0 2px rgba(30,35,60,.10);"></div>
<div class="a" style="left:1025.2px;top:683.0px;width:8.0px;height:158.7px;background:#72c240;border-radius:5px 0 0 5px;"></div>
<div class="a" style="left:1033.2px;top:687.0px;width:326.5px;height:83px;overflow:hidden">
<div class="t" style="top:8.22px;font-size:22.9px;line-height:22.9px;color:#0a0a0a;letter-spacing:0.842px;left:3.2px;-webkit-text-stroke:0.4px currentColor;">Scan barcodes of packaged</div>
<div class="t" style="top:41.42px;font-size:22.9px;line-height:22.9px;color:#0a0a0a;letter-spacing:0.999px;left:3.2px;-webkit-text-stroke:0.4px currentColor;">food items for quick logging.</div>
</div>
<svg class="a" style="left:1034.5px;top:767.6px;" width="31.4" height="31.4" viewBox="0 0 31.4 31.4"><circle cx="15.7" cy="15.7" r="15.7" fill="#fdeee1"/><path d="M5.199999999999999 11.799999999999999H26.2M5.199999999999999 19.599999999999998H26.2" stroke="#d96b14" stroke-width="2.700"/></svg>
<div class="a" style="left:1077.2px;top:769.0px;width:50.0px;height:28.5px;background:#dfe0e6;border-radius:15px;"></div>
<div class="t" style="top:772.02px;font-size:21px;line-height:21px;color:#172b4d;left:1096.1px;">+</div>
<svg class="a" style="left:1040.7px;top:809.5px;" width="16.0" height="22.0" viewBox="0 0 16 22"><path d="M1.400 1.400H14.400V20L7.900 14.800L1.400 20Z" fill="none" stroke="#6a9a32" stroke-width="2.300" stroke-linejoin="round"/></svg>
<div class="a" style="left:1062.2px;top:805.0px;width:69.8px;height:32px;overflow:hidden">
<div class="t" style="top:4.19px;font-size:20.8px;line-height:20.8px;color:#505565;font-weight:700;letter-spacing:0.447px;left:0.5px;">HT-112</div>
</div>
<div class="a" style="left:1142.2px;top:807.0px;width:114.0px;height:27.0px;background:#2c62dd;border-radius:5px;"></div>
<div class="t" style="top:812.39px;font-size:16.5px;line-height:16.5px;color:#fff;font-weight:700;letter-spacing:-0.284px;left:1151.0px;">IN PROGR...</div>
<svg class="a" style="left:1265.1px;top:804.5px;" width="31.4" height="31.4" viewBox="0 0 31.4 31.4"><circle cx="15.7" cy="15.7" r="15.7" fill="#e4e4e6"/><g transform="translate(0.0 0.0) scale(1.0)" fill="#6e6e6e"><circle cx="12.300" cy="10.700" r="4.600"/><path d="M3.800 24.600c0.400-4.200 3.600-6.800 8.600-6.800c1.700 0 3.200 0.300 4.400 0.800a6.600 6.600 0 0 0-0.600 6z"/><circle cx="22" cy="19.300" r="3.900"/><g stroke="#6e6e6e" stroke-width="2.700"><path d="M22 13.800v11M17.240 16.550l9.520 5.500M26.760 16.550l-9.520 5.500"/></g><circle cx="22" cy="19.300" r="1.800" fill="#e4e4e6"/></g></svg>
<svg class="a" style="left:1311.8px;top:810.5px;" width="19.0" height="19.0" viewBox="0 0 19 19"><g fill="none" stroke="#8993a4" stroke-width="2"><rect x="6.500" y="1" width="6" height="3.600" rx="1.200"/><rect x="1" y="14.400" width="6" height="3.600" rx="1.200"/><rect x="12" y="14.400" width="6" height="3.600" rx="1.200"/><path d="M9.500 4.600V9.500M4 14.400V11a1.500 1.500 0 0 1 1.500-1.500h8A1.500 1.500 0 0 1 15 11v3.400"/></g></svg>
<div class="a" style="left:1394.8px;top:683.0px;width:334.5px;height:158.7px;background:#fff;border-radius:5px;box-shadow:0 1px 11px rgba(30,35,60,.22), 0 0 2px rgba(30,35,60,.10);"></div>
<div class="a" style="left:1394.8px;top:683.0px;width:8.0px;height:158.7px;background:#5e22f4;border-radius:5px 0 0 5px;"></div>
<div class="a" style="left:1402.8px;top:687.0px;width:326.5px;height:83px;overflow:hidden">
<div class="t" style="top:8.22px;font-size:22.9px;line-height:22.9px;color:#0a0a0a;letter-spacing:0.901px;left:3.2px;-webkit-text-stroke:0.4px currentColor;">Receive nutrient deficiency</div>
<div class="t" style="top:41.42px;font-size:22.9px;line-height:22.9px;color:#0a0a0a;letter-spacing:0.803px;left:3.2px;-webkit-text-stroke:0.4px currentColor;">alerts</div>
</div>
<div class="a" style="left:1403.8px;top:771.2px;width:51.0px;height:28.0px;background:#dfe0e6;border-radius:15px;"></div>
<div class="t" style="top:774.42px;font-size:21px;line-height:21px;color:#172b4d;left:1422.7px;">+</div>
<svg class="a" style="left:1407.5px;top:810.0px;" width="21.0" height="21.0" viewBox="0 0 21 21"><rect width="21" height="21" rx="2.5" fill="#5aa7e7"/><path d="M5.0 11.0L9.0 15.0L16.5 6.5" fill="none" stroke="#fff" stroke-width="3.0" stroke-linecap="round" stroke-linejoin="round"/></svg>
<div class="a" style="left:1431.8px;top:805.0px;width:69.8px;height:32px;overflow:hidden">
<div class="t" style="top:4.19px;font-size:20.8px;line-height:20.8px;color:#505565;font-weight:700;letter-spacing:1.257px;left:-7.0px;">PHT-86</div>
</div>
<div class="a" style="left:1511.8px;top:807.0px;width:70.0px;height:26.0px;background:#44546f;border-radius:5px;"></div>
<div class="t" style="top:811.89px;font-size:16.5px;line-height:16.5px;color:#fff;font-weight:700;letter-spacing:-0.163px;left:1521.1px;">TO DO</div>
<svg class="a" style="left:1590.7px;top:804.5px;" width="31.4" height="31.4" viewBox="148 156 1144 1144"><defs><clipPath id="a8"><circle cx="720" cy="738" r="482"/></clipPath></defs><circle cx="720" cy="728" r="572" fill="#fdf2e6"/><circle cx="720" cy="738" r="482" fill="#f7ccb2"/><g clip-path="url(#a8)"><path d="M300 1300C310 1040 420 890 620 870L820 870C980 890 1060 1000 1100 1300Z" fill="#417d80"/><path d="M300 1100C340 1000 390 940 440 915L540 1160L420 1230Z" fill="#2b3b80"/><path d="M960 915C1010 960 1050 1040 1070 1120L1000 1130Z" fill="#2b3b80"/><path d="M580 850L650 950L710 885L780 925L830 850L760 810L640 810Z" fill="#e6aa30"/><path d="M690 800L800 800L770 850L720 850Z" fill="#3a2a22"/><path d="M640 500C700 460 820 450 880 480C900 560 900 640 860 720C830 790 780 830 720 820C660 800 610 730 600 660C610 600 620 540 640 500Z" fill="#a9694a"/><path d="M690 560h60M790 550h50" stroke="#3a2a22" stroke-width="14"/><path d="M760 700c30 10 60 0 80-15" stroke="#8a4f38" stroke-width="12" fill="none"/><path d="M520 560C510 470 560 410 650 395C740 385 800 350 870 335C920 340 940 370 925 420C905 460 880 480 820 485C760 490 700 505 675 530C665 590 660 640 620 700C570 700 540 680 525 640C545 620 530 590 520 560Z" fill="#2a221e"/></g></svg>
<svg class="a" style="left:1637.4px;top:810.5px;" width="19.0" height="19.0" viewBox="0 0 19 19"><g fill="none" stroke="#8993a4" stroke-width="2"><rect x="6.500" y="1" width="6" height="3.600" rx="1.200"/><rect x="1" y="14.400" width="6" height="3.600" rx="1.200"/><rect x="12" y="14.400" width="6" height="3.600" rx="1.200"/><path d="M9.500 4.600V9.500M4 14.400V11a1.500 1.500 0 0 1 1.500-1.500h8A1.500 1.500 0 0 1 15 11v3.400"/></g></svg>
<svg class="a" style="left:1671.2px;top:804.5px;" width="31.4" height="31.4" viewBox="0 0 31.4 31.4"><circle cx="15.7" cy="15.7" r="15.7" fill="#fdeee1"/><path d="M5.199999999999999 11.799999999999999H26.2M5.199999999999999 19.599999999999998H26.2" stroke="#d96b14" stroke-width="2.700"/></svg>
<div class="a" style="left:1764.4px;top:683.0px;width:334.5px;height:158.7px;background:#fff;border-radius:5px;box-shadow:0 1px 11px rgba(30,35,60,.22), 0 0 2px rgba(30,35,60,.10);"></div>
<div class="a" style="left:1764.4px;top:683.0px;width:8.0px;height:158.7px;background:#5e22f4;border-radius:5px 0 0 5px;"></div>
<div class="a" style="left:1772.4px;top:687.0px;width:326.5px;height:83px;overflow:hidden">
<div class="t" style="top:8.62px;font-size:22.9px;line-height:22.9px;color:#0a0a0a;letter-spacing:0.967px;left:3.2px;-webkit-text-stroke:0.4px currentColor;">Calculate and display the</div>
<div class="t" style="top:40.62px;font-size:22.9px;line-height:22.9px;color:#0a0a0a;letter-spacing:1.082px;left:3.2px;-webkit-text-stroke:0.4px currentColor;">nutritional value of a meal</div>
<div class="t" style="top:72.62px;font-size:22.9px;line-height:22.9px;color:#0a0a0a;letter-spacing:0.659px;left:3.2px;-webkit-text-stroke:0.4px currentColor;">based on scanned items</div>
</div>
<svg class="a" style="left:1773.7px;top:767.6px;" width="31.4" height="31.4" viewBox="0 0 31.4 31.4"><circle cx="15.7" cy="15.7" r="15.7" fill="#fdeee1"/><path d="M5.199999999999999 11.799999999999999H26.2M5.199999999999999 19.599999999999998H26.2" stroke="#d96b14" stroke-width="2.700"/></svg>
<div class="a" style="left:1816.4px;top:769.0px;width:50.0px;height:28.5px;background:#dfe0e6;border-radius:15px;"></div>
<div class="t" style="top:772.02px;font-size:21px;line-height:21px;color:#172b4d;left:1835.3px;">+</div>
<svg class="a" style="left:1777.1px;top:810.0px;" width="21.0" height="21.0" viewBox="0 0 21 21"><rect width="21" height="21" rx="2.5" fill="#5aa7e7"/><path d="M5.0 11.0L9.0 15.0L16.5 6.5" fill="none" stroke="#fff" stroke-width="3.0" stroke-linecap="round" stroke-linejoin="round"/></svg>
<div class="a" style="left:1801.4px;top:805.0px;width:69.8px;height:32px;overflow:hidden">
<div class="t" style="top:4.19px;font-size:20.8px;line-height:20.8px;color:#505565;font-weight:700;letter-spacing:0.447px;left:0.5px;">HT-118</div>
</div>
<div class="a" style="left:1881.4px;top:807.0px;width:114.0px;height:27.0px;background:#2c62dd;border-radius:5px;"></div>
<div class="t" style="top:812.39px;font-size:16.5px;line-height:16.5px;color:#fff;font-weight:700;letter-spacing:-0.284px;left:1890.2px;">IN PROGR...</div>
<svg class="a" style="left:2004.3px;top:804.5px;" width="31.4" height="31.4" viewBox="177 157 1156 1156"><defs><clipPath id="c9"><circle cx="755" cy="735" r="578"/></clipPath></defs><g clip-path="url(#c9)"><rect x="170" y="150" width="1180" height="1180" fill="#5b8fdb"/><path d="M500 1340C510 1280 540 1250 600 1240L920 1240C980 1250 1010 1280 1020 1340Z" fill="#cf8ae6"/><path d="M590 1000L760 940L910 1000L900 1040L600 1040Z" fill="#c98be2"/><path d="M390 1250C400 1100 480 1010 620 990L890 990C1030 1010 1100 1100 1110 1250C1000 1270 500 1270 390 1250Z" fill="#74d760"/><path d="M840 1000C1000 1010 1090 1100 1105 1250C1040 1262 950 1266 860 1268Z" fill="#a2ea8f"/><path d="M800 1000v250" stroke="#4fa14a" stroke-width="36"/><path d="M700 870h130v110l-65 40l-65-40z" fill="#c88661"/><ellipse cx="505" cy="690" rx="38" ry="72" fill="#cf7f58"/><ellipse cx="1005" cy="690" rx="38" ry="72" fill="#d98d65"/><path d="M545 560C545 450 640 400 760 400C880 400 975 450 975 560C975 760 900 910 760 915C620 910 545 760 545 560Z" fill="#e9aa88"/><path d="M560 640C540 800 640 910 760 915C700 880 620 800 600 640Z" fill="#d58f6c"/><path d="M520 600C470 470 500 330 600 270C640 200 720 170 760 200C860 200 960 260 1000 360C1030 450 1010 540 990 600L960 520C930 470 880 440 760 440C650 440 590 470 555 520Z" fill="#222021"/><path d="M600 540c40-25 90-25 130 0M800 540c40-25 90-25 130 0" stroke="#2a201c" stroke-width="34" fill="none"/><rect x="618" y="588" width="76" height="74" rx="14" fill="#3a3236"/><rect x="818" y="588" width="76" height="74" rx="14" fill="#3a3236"/><ellipse cx="745" cy="735" rx="50" ry="32" fill="#dc8166"/></g></svg>
<svg class="a" style="left:2051.0px;top:810.5px;" width="19.0" height="19.0" viewBox="0 0 19 19"><g fill="none" stroke="#8993a4" stroke-width="2"><rect x="6.500" y="1" width="6" height="3.600" rx="1.200"/><rect x="1" y="14.400" width="6" height="3.600" rx="1.200"/><rect x="12" y="14.400" width="6" height="3.600" rx="1.200"/><path d="M9.500 4.600V9.500M4 14.400V11a1.500 1.500 0 0 1 1.500-1.500h8A1.500 1.500 0 0 1 15 11v3.400"/></g></svg>
<div class="a" style="left:286.0px;top:877.0px;width:334.5px;height:158.7px;background:#fff;border-radius:5px;box-shadow:0 1px 11px rgba(30,35,60,.22), 0 0 2px rgba(30,35,60,.10);"></div>
<div class="a" style="left:286.0px;top:877.0px;width:8.0px;height:158.7px;background:#72c240;border-radius:5px 0 0 5px;"></div>
<div class="a" style="left:294.0px;top:881.0px;width:326.5px;height:83px;overflow:hidden">
<div class="t" style="top:8.22px;font-size:22.9px;line-height:22.9px;color:#0a0a0a;letter-spacing:0.710px;left:3.2px;-webkit-text-stroke:0.4px currentColor;">Receive alerts for exceeding</div>
<div class="t" style="top:41.42px;font-size:22.9px;line-height:22.9px;color:#0a0a0a;letter-spacing:0.876px;left:3.2px;-webkit-text-stroke:0.4px currentColor;">calorie limit</div>
</div>
<div class="a" style="left:295.0px;top:965.2px;width:51.0px;height:28.0px;background:#dfe0e6;border-radius:15px;"></div>
<div class="t" style="top:968.42px;font-size:21px;line-height:21px;color:#172b4d;left:313.9px;">+</div>
<svg class="a" style="left:298.7px;top:1004.0px;" width="21.0" height="21.0" viewBox="0 0 21 21"><rect width="21" height="21" rx="2.5" fill="#5aa7e7"/><path d="M5.0 11.0L9.0 15.0L16.5 6.5" fill="none" stroke="#fff" stroke-width="3.0" stroke-linecap="round" stroke-linejoin="round"/></svg>
<div class="a" style="left:323.0px;top:999.0px;width:69.8px;height:32px;overflow:hidden">
<div class="t" style="top:4.19px;font-size:20.8px;line-height:20.8px;color:#505565;font-weight:700;letter-spacing:1.257px;left:-7.0px;">PHT-30</div>
</div>
<div class="a" style="left:403.0px;top:1001.0px;width:70.0px;height:26.0px;background:#44546f;border-radius:5px;"></div>
<div class="t" style="top:1005.89px;font-size:16.5px;line-height:16.5px;color:#fff;font-weight:700;letter-spacing:-0.163px;left:412.4px;">TO DO</div>
<svg class="a" style="left:481.9px;top:998.5px;" width="31.4" height="31.4" viewBox="147 147 1176 1176"><defs><clipPath id="b10"><circle cx="735" cy="735" r="588"/></clipPath></defs><g clip-path="url(#b10)"><rect x="140" y="140" width="1200" height="1200" fill="#bbb9b2"/><path d="M140 480L520 420L1340 760L1340 1340L140 1340Z" fill="#dcdedb"/><path d="M140 600L500 560L1340 980L1340 1100L480 700L140 740Z" fill="#eceeeb"/><path d="M980 700L1340 840L1340 760L1000 600Z" fill="#c4c2bb"/><path d="M340 1340C350 1180 450 1090 600 1050L900 1040C1040 1080 1110 1180 1130 1340Z" fill="#22202c"/><path d="M420 1130l70-50M520 1230l60-70M560 1060l40 60M930 1100l70 40M1000 1200l60 30M860 1180l50 60M440 1260l50 40" stroke="#e9e6ee" stroke-width="42"/><path d="M600 930L880 880L900 1180L760 1320L640 1300Z" fill="#c9a07c"/><path d="M900 620c50-10 80 30 70 90c-10 50-40 80-70 70z" fill="#d9ae8e"/><path d="M500 560C500 470 600 420 720 430C840 440 910 520 900 640C890 800 820 960 690 970C580 960 500 820 490 700Z" fill="#eccbb0"/><path d="M760 500C860 520 900 600 890 700C880 820 820 930 740 960C800 860 820 700 760 500Z" fill="#d6a988"/><path d="M480 640C450 520 480 380 580 320C680 270 820 300 900 390C960 450 960 560 930 660L890 650C890 560 860 500 790 470C700 450 600 460 540 490C510 530 510 590 500 640Z" fill="#17161a"/><g fill="none" stroke="#4b3c37" stroke-width="26"><rect x="455" y="612" width="190" height="105" rx="36"/><rect x="690" y="610" width="150" height="100" rx="34"/><path d="M645 650h45M840 640l70-10"/></g><path d="M580 840c40 25 90 25 130 0" stroke="#c9707a" stroke-width="30" fill="none"/></g></svg>
<svg class="a" style="left:528.6px;top:1004.5px;" width="19.0" height="19.0" viewBox="0 0 19 19"><g fill="none" stroke="#8993a4" stroke-width="2"><rect x="6.500" y="1" width="6" height="3.600" rx="1.200"/><rect x="1" y="14.400" width="6" height="3.600" rx="1.200"/><rect x="12" y="14.400" width="6" height="3.600" rx="1.200"/><path d="M9.500 4.600V9.500M4 14.400V11a1.500 1.500 0 0 1 1.500-1.500h8A1.500 1.500 0 0 1 15 11v3.400"/></g></svg>
<svg class="a" style="left:562.4px;top:998.5px;" width="31.4" height="31.4" viewBox="0 0 31.4 31.4"><circle cx="15.7" cy="15.7" r="15.7" fill="#fdeee1"/><path d="M5.199999999999999 11.799999999999999H26.2M5.199999999999999 19.599999999999998H26.2" stroke="#d96b14" stroke-width="2.700"/></svg>
<div class="a" style="left:655.6px;top:877.0px;width:334.5px;height:158.7px;background:#fff;border-radius:5px;box-shadow:0 1px 11px rgba(30,35,60,.22), 0 0 2px rgba(30,35,60,.10);"></div>
<div class="a" style="left:655.6px;top:877.0px;width:8.0px;height:158.7px;background:#72c240;border-radius:5px 0 0 5px;"></div>
<div class="a" style="left:663.6px;top:881.0px;width:326.5px;height:83px;overflow:hidden">
<div class="t" style="top:8.22px;font-size:22.9px;line-height:22.9px;color:#0a0a0a;letter-spacing:0.908px;left:3.2px;-webkit-text-stroke:0.4px currentColor;">Record protein consumption</div>
</div>
<svg class="a" style="left:664.9px;top:961.6px;" width="31.4" height="31.4" viewBox="0 0 31.4 31.4"><circle cx="15.7" cy="15.7" r="15.7" fill="#fdeee1"/><path d="M5.199999999999999 11.799999999999999H26.2M5.199999999999999 19.599999999999998H26.2" stroke="#d96b14" stroke-width="2.700"/></svg>
<div class="a" style="left:707.6px;top:963.0px;width:50.0px;height:28.5px;background:#dfe0e6;border-radius:15px;"></div>
<div class="t" style="top:966.02px;font-size:21px;line-height:21px;color:#172b4d;left:726.5px;">+</div>
<svg class="a" style="left:668.3px;top:1004.0px;" width="21.0" height="21.0" viewBox="0 0 21 21"><rect width="21" height="21" rx="2.5" fill="#5aa7e7"/><path d="M5.0 11.0L9.0 15.0L16.5 6.5" fill="none" stroke="#fff" stroke-width="3.0" stroke-linecap="round" stroke-linejoin="round"/></svg>
<div class="a" style="left:692.6px;top:999.0px;width:69.8px;height:32px;overflow:hidden">
<div class="t" style="top:4.19px;font-size:20.8px;line-height:20.8px;color:#505565;font-weight:700;letter-spacing:1.257px;left:-7.0px;">PHT-81</div>
</div>
<div class="a" style="left:772.6px;top:1001.0px;width:114.0px;height:27.0px;background:#2c62dd;border-radius:5px;"></div>
<div class="t" style="top:1006.39px;font-size:16.5px;line-height:16.5px;color:#fff;font-weight:700;letter-spacing:-0.284px;left:781.4px;">IN PROGR...</div>
<svg class="a" style="left:895.5px;top:998.5px;" width="31.4" height="31.4" viewBox="147 147 1176 1176"><defs><clipPath id="b11"><circle cx="735" cy="735" r="588"/></clipPath></defs><g clip-path="url(#b11)"><rect x="140" y="140" width="1200" height="1200" fill="#bbb9b2"/><path d="M140 480L520 420L1340 760L1340 1340L140 1340Z" fill="#dcdedb"/><path d="M140 600L500 560L1340 980L1340 1100L480 700L140 740Z" fill="#eceeeb"/><path d="M980 700L1340 840L1340 760L1000 600Z" fill="#c4c2bb"/><path d="M340 1340C350 1180 450 1090 600 1050L900 1040C1040 1080 1110 1180 1130 1340Z" fill="#22202c"/><path d="M420 1130l70-50M520 1230l60-70M560 1060l40 60M930 1100l70 40M1000 1200l60 30M860 1180l50 60M440 1260l50 40" stroke="#e9e6ee" stroke-width="42"/><path d="M600 930L880 880L900 1180L760 1320L640 1300Z" fill="#c9a07c"/><path d="M900 620c50-10 80 30 70 90c-10 50-40 80-70 70z" fill="#d9ae8e"/><path d="M500 560C500 470 600 420 720 430C840 440 910 520 900 640C890 800 820 960 690 970C580 960 500 820 490 700Z" fill="#eccbb0"/><path d="M760 500C860 520 900 600 890 700C880 820 820 930 740 960C800 860 820 700 760 500Z" fill="#d6a988"/><path d="M480 640C450 520 480 380 580 320C680 270 820 300 900 390C960 450 960 560 930 660L890 650C890 560 860 500 790 470C700 450 600 460 540 490C510 530 510 590 500 640Z" fill="#17161a"/><g fill="none" stroke="#4b3c37" stroke-width="26"><rect x="455" y="612" width="190" height="105" rx="36"/><rect x="690" y="610" width="150" height="100" rx="34"/><path d="M645 650h45M840 640l70-10"/></g><path d="M580 840c40 25 90 25 130 0" stroke="#c9707a" stroke-width="30" fill="none"/></g></svg>
<svg class="a" style="left:942.2px;top:1004.5px;" width="19.0" height="19.0" viewBox="0 0 19 19"><g fill="none" stroke="#8993a4" stroke-width="2"><rect x="6.500" y="1" width="6" height="3.600" rx="1.200"/><rect x="1" y="14.400" width="6" height="3.600" rx="1.200"/><rect x="12" y="14.400" width="6" height="3.600" rx="1.200"/><path d="M9.500 4.600V9.500M4 14.400V11a1.500 1.500 0 0 1 1.500-1.500h8A1.500 1.500 0 0 1 15 11v3.400"/></g></svg>
<div class="a" style="left:1025.2px;top:877.0px;width:334.5px;height:158.7px;background:#fff;border-radius:5px;box-shadow:0 1px 11px rgba(30,35,60,.22), 0 0 2px rgba(30,35,60,.10);"></div>
<div class="a" style="left:1025.2px;top:877.0px;width:8.0px;height:158.7px;background:#72c240;border-radius:5px 0 0 5px;"></div>
<div class="a" style="left:1033.2px;top:881.0px;width:326.5px;height:83px;overflow:hidden">
<div class="t" style="top:8.62px;font-size:22.9px;line-height:22.9px;color:#0a0a0a;letter-spacing:0.785px;left:3.2px;-webkit-text-stroke:0.4px currentColor;">View a summary of my</div>
<div class="t" style="top:40.62px;font-size:22.9px;line-height:22.9px;color:#0a0a0a;letter-spacing:0.848px;left:3.2px;-webkit-text-stroke:0.4px currentColor;">daily, weekly, and monthly</div>
<div class="t" style="top:72.62px;font-size:22.9px;line-height:22.9px;color:#0a0a0a;letter-spacing:1.082px;left:3.2px;-webkit-text-stroke:0.4px currentColor;">nutrition intake for better</div>
</div>
<div class="a" style="left:1353.9px;top:878.5px;width:5.8px;height:51.0px;background:#8b8b8b;border-radius:3px;"></div>
<div class="a" style="left:1034.2px;top:965.2px;width:51.0px;height:28.0px;background:#dfe0e6;border-radius:15px;"></div>
<div class="t" style="top:968.42px;font-size:21px;line-height:21px;color:#172b4d;left:1053.1px;">+</div>
<svg class="a" style="left:1037.9px;top:1004.0px;" width="21.0" height="21.0" viewBox="0 0 21 21"><rect width="21" height="21" rx="2.5" fill="#5aa7e7"/><path d="M5.0 11.0L9.0 15.0L16.5 6.5" fill="none" stroke="#fff" stroke-width="3.0" stroke-linecap="round" stroke-linejoin="round"/></svg>
<div class="a" style="left:1062.2px;top:999.0px;width:69.8px;height:32px;overflow:hidden">
<div class="t" style="top:4.19px;font-size:20.8px;line-height:20.8px;color:#505565;font-weight:700;letter-spacing:0.447px;left:0.5px;">HT-113</div>
</div>
<div class="a" style="left:1142.2px;top:1001.0px;width:70.0px;height:26.0px;background:#44546f;border-radius:5px;"></div>
<div class="t" style="top:1005.89px;font-size:16.5px;line-height:16.5px;color:#fff;font-weight:700;letter-spacing:-0.163px;left:1151.5px;">TO DO</div>
<svg class="a" style="left:1221.1px;top:998.5px;" width="31.4" height="31.4" viewBox="0 0 31.4 31.4"><circle cx="15.7" cy="15.7" r="15.7" fill="#e4e4e6"/><g transform="translate(0.0 0.0) scale(1.0)" fill="#6e6e6e"><circle cx="12.300" cy="10.700" r="4.600"/><path d="M3.800 24.600c0.400-4.200 3.600-6.800 8.600-6.800c1.700 0 3.200 0.300 4.400 0.800a6.600 6.600 0 0 0-0.600 6z"/><circle cx="22" cy="19.300" r="3.900"/><g stroke="#6e6e6e" stroke-width="2.700"><path d="M22 13.800v11M17.240 16.550l9.520 5.500M26.760 16.550l-9.520 5.500"/></g><circle cx="22" cy="19.300" r="1.800" fill="#e4e4e6"/></g></svg>
<svg class="a" style="left:1267.8px;top:1004.5px;" width="19.0" height="19.0" viewBox="0 0 19 19"><g fill="none" stroke="#8993a4" stroke-width="2"><rect x="6.500" y="1" width="6" height="3.600" rx="1.200"/><rect x="1" y="14.400" width="6" height="3.600" rx="1.200"/><rect x="12" y="14.400" width="6" height="3.600" rx="1.200"/><path d="M9.500 4.600V9.500M4 14.400V11a1.500 1.500 0 0 1 1.500-1.500h8A1.500 1.500 0 0 1 15 11v3.400"/></g></svg>
<svg class="a" style="left:1301.6px;top:998.5px;" width="31.4" height="31.4" viewBox="0 0 31.4 31.4"><circle cx="15.7" cy="15.7" r="15.7" fill="#fdeee1"/><path d="M5.199999999999999 11.799999999999999H26.2M5.199999999999999 19.599999999999998H26.2" stroke="#d96b14" stroke-width="2.700"/></svg>
<div class="a" style="left:1394.8px;top:877.0px;width:334.5px;height:158.7px;background:#fff;border-radius:5px;box-shadow:0 1px 11px rgba(30,35,60,.22), 0 0 2px rgba(30,35,60,.10);"></div>
<div class="a" style="left:1394.8px;top:877.0px;width:8.0px;height:158.7px;background:#5e22f4;border-radius:5px 0 0 5px;"></div>
<div class="a" style="left:1402.8px;top:881.0px;width:326.5px;height:83px;overflow:hidden">
<div class="t" style="top:8.22px;font-size:22.9px;line-height:22.9px;color:#0a0a0a;letter-spacing:0.746px;left:3.2px;-webkit-text-stroke:0.4px currentColor;">View personalized meal</div>
<div class="t" style="top:41.42px;font-size:22.9px;line-height:22.9px;color:#0a0a0a;letter-spacing:0.983px;left:3.2px;-webkit-text-stroke:0.4px currentColor;">suggestions</div>
</div>
<svg class="a" style="left:1404.1px;top:961.6px;" width="31.4" height="31.4" viewBox="0 0 31.4 31.4"><circle cx="15.7" cy="15.7" r="15.7" fill="#fdeee1"/><path d="M5.199999999999999 11.799999999999999H26.2M5.199999999999999 19.599999999999998H26.2" stroke="#d96b14" stroke-width="2.700"/></svg>
<div class="a" style="left:1446.8px;top:963.0px;width:50.0px;height:28.5px;background:#dfe0e6;border-radius:15px;"></div>
<div class="t" style="top:966.02px;font-size:21px;line-height:21px;color:#172b4d;left:1465.7px;">+</div>
<svg class="a" style="left:1407.5px;top:1004.0px;" width="21.0" height="21.0" viewBox="0 0 21 21"><rect width="21" height="21" rx="2.5" fill="#5aa7e7"/><path d="M5.0 11.0L9.0 15.0L16.5 6.5" fill="none" stroke="#fff" stroke-width="3.0" stroke-linecap="round" stroke-linejoin="round"/></svg>
<div class="a" style="left:1431.8px;top:999.0px;width:69.8px;height:32px;overflow:hidden">
<div class="t" style="top:4.19px;font-size:20.8px;line-height:20.8px;color:#505565;font-weight:700;letter-spacing:1.257px;left:-7.0px;">PHT-87</div>
</div>
<div class="a" style="left:1511.8px;top:1001.0px;width:114.0px;height:27.0px;background:#2c62dd;border-radius:5px;"></div>
<div class="t" style="top:1006.39px;font-size:16.5px;line-height:16.5px;color:#fff;font-weight:700;letter-spacing:-0.284px;left:1520.6px;">IN PROGR...</div>
<svg class="a" style="left:1634.7px;top:998.5px;" width="31.4" height="31.4" viewBox="177 157 1156 1156"><defs><clipPath id="c12"><circle cx="755" cy="735" r="578"/></clipPath></defs><g clip-path="url(#c12)"><rect x="170" y="150" width="1180" height="1180" fill="#5b8fdb"/><path d="M500 1340C510 1280 540 1250 600 1240L920 1240C980 1250 1010 1280 1020 1340Z" fill="#cf8ae6"/><path d="M590 1000L760 940L910 1000L900 1040L600 1040Z" fill="#c98be2"/><path d="M390 1250C400 1100 480 1010 620 990L890 990C1030 1010 1100 1100 1110 1250C1000 1270 500 1270 390 1250Z" fill="#74d760"/><path d="M840 1000C1000 1010 1090 1100 1105 1250C1040 1262 950 1266 860 1268Z" fill="#a2ea8f"/><path d="M800 1000v250" stroke="#4fa14a" stroke-width="36"/><path d="M700 870h130v110l-65 40l-65-40z" fill="#c88661"/><ellipse cx="505" cy="690" rx="38" ry="72" fill="#cf7f58"/><ellipse cx="1005" cy="690" rx="38" ry="72" fill="#d98d65"/><path d="M545 560C545 450 640 400 760 400C880 400 975 450 975 560C975 760 900 910 760 915C620 910 545 760 545 560Z" fill="#e9aa88"/><path d="M560 640C540 800 640 910 760 915C700 880 620 800 600 640Z" fill="#d58f6c"/><path d="M520 600C470 470 500 330 600 270C640 200 720 170 760 200C860 200 960 260 1000 360C1030 450 1010 540 990 600L960 520C930 470 880 440 760 440C650 440 590 470 555 520Z" fill="#222021"/><path d="M600 540c40-25 90-25 130 0M800 540c40-25 90-25 130 0" stroke="#2a201c" stroke-width="34" fill="none"/><rect x="618" y="588" width="76" height="74" rx="14" fill="#3a3236"/><rect x="818" y="588" width="76" height="74" rx="14" fill="#3a3236"/><ellipse cx="745" cy="735" rx="50" ry="32" fill="#dc8166"/></g></svg>
<svg class="a" style="left:1681.4px;top:1004.5px;" width="19.0" height="19.0" viewBox="0 0 19 19"><g fill="none" stroke="#8993a4" stroke-width="2"><rect x="6.500" y="1" width="6" height="3.600" rx="1.200"/><rect x="1" y="14.400" width="6" height="3.600" rx="1.200"/><rect x="12" y="14.400" width="6" height="3.600" rx="1.200"/><path d="M9.500 4.600V9.500M4 14.400V11a1.500 1.500 0 0 1 1.500-1.500h8A1.500 1.500 0 0 1 15 11v3.400"/></g></svg>
<div class="a" style="left:286.0px;top:1287.5px;width:334.5px;height:158.7px;background:#fff;border-radius:5px;box-shadow:0 1px 11px rgba(30,35,60,.22), 0 0 2px rgba(30,35,60,.10);"></div>
<div class="a" style="left:286.0px;top:1287.5px;width:8.0px;height:158.7px;background:#72c240;border-radius:5px 0 0 5px;"></div>
<div class="a" style="left:294.0px;top:1291.5px;width:326.5px;height:83px;overflow:hidden">
<div class="t" style="top:8.22px;font-size:22.9px;line-height:22.9px;color:#0a0a0a;letter-spacing:0.873px;left:3.2px;-webkit-text-stroke:0.4px currentColor;">Scan barcode for food items</div>
</div>
<div class="a" style="left:295.0px;top:1375.7px;width:51.0px;height:28.0px;background:#dfe0e6;border-radius:15px;"></div>
<div class="t" style="top:1378.92px;font-size:21px;line-height:21px;color:#172b4d;left:313.9px;">+</div>
<svg class="a" style="left:298.7px;top:1414.5px;" width="21.0" height="21.0" viewBox="0 0 21 21"><rect width="21" height="21" rx="2.5" fill="#5aa7e7"/><path d="M5.0 11.0L9.0 15.0L16.5 6.5" fill="none" stroke="#fff" stroke-width="3.0" stroke-linecap="round" stroke-linejoin="round"/></svg>
<div class="a" style="left:323.0px;top:1409.5px;width:69.8px;height:32px;overflow:hidden">
<div class="t" style="top:4.19px;font-size:20.8px;line-height:20.8px;color:#505565;font-weight:700;letter-spacing:1.257px;left:-7.0px;">PHT-31</div>
</div>
<div class="a" style="left:403.0px;top:1411.5px;width:70.0px;height:26.0px;background:#44546f;border-radius:5px;"></div>
<div class="t" style="top:1416.39px;font-size:16.5px;line-height:16.5px;color:#fff;font-weight:700;letter-spacing:-0.163px;left:412.4px;">TO DO</div>
<svg class="a" style="left:481.9px;top:1409.0px;" width="31.4" height="31.4" viewBox="0 0 31.4 31.4"><circle cx="15.7" cy="15.7" r="15.7" fill="#e4e4e6"/><g transform="translate(0.0 0.0) scale(1.0)" fill="#6e6e6e"><circle cx="12.300" cy="10.700" r="4.600"/><path d="M3.800 24.600c0.400-4.200 3.600-6.800 8.600-6.800c1.700 0 3.200 0.300 4.400 0.800a6.600 6.600 0 0 0-0.600 6z"/><circle cx="22" cy="19.300" r="3.900"/><g stroke="#6e6e6e" stroke-width="2.700"><path d="M22 13.800v11M17.240 16.550l9.520 5.500M26.760 16.550l-9.520 5.500"/></g><circle cx="22" cy="19.300" r="1.800" fill="#e4e4e6"/></g></svg>
<svg class="a" style="left:528.6px;top:1415.0px;" width="19.0" height="19.0" viewBox="0 0 19 19"><g fill="none" stroke="#8993a4" stroke-width="2"><rect x="6.500" y="1" width="6" height="3.600" rx="1.200"/><rect x="1" y="14.400" width="6" height="3.600" rx="1.200"/><rect x="12" y="14.400" width="6" height="3.600" rx="1.200"/><path d="M9.500 4.600V9.500M4 14.400V11a1.500 1.500 0 0 1 1.500-1.500h8A1.500 1.500 0 0 1 15 11v3.400"/></g></svg>
<svg class="a" style="left:562.4px;top:1409.0px;" width="31.4" height="31.4" viewBox="0 0 31.4 31.4"><circle cx="15.7" cy="15.7" r="15.7" fill="#fdeee1"/><path d="M5.199999999999999 11.799999999999999H26.2M5.199999999999999 19.599999999999998H26.2" stroke="#d96b14" stroke-width="2.700"/></svg>
<div class="a" style="left:655.6px;top:1287.5px;width:334.5px;height:158.7px;background:#fff;border-radius:5px;box-shadow:0 1px 11px rgba(30,35,60,.22), 0 0 2px rgba(30,35,60,.10);"></div>
<div class="a" style="left:655.6px;top:1287.5px;width:8.0px;height:158.7px;background:#72c240;border-radius:5px 0 0 5px;"></div>
<div class="a" style="left:663.6px;top:1291.5px;width:326.5px;height:83px;overflow:hidden">
<div class="t" style="top:8.22px;font-size:22.9px;line-height:22.9px;color:#0a0a0a;letter-spacing:0.850px;left:3.2px;-webkit-text-stroke:0.4px currentColor;">Receive macronutrient ratio</div>
<div class="t" style="top:41.42px;font-size:22.9px;line-height:22.9px;color:#0a0a0a;letter-spacing:0.911px;left:3.2px;-webkit-text-stroke:0.4px currentColor;">insights</div>
</div>
<div class="a" style="left:664.6px;top:1375.7px;width:51.0px;height:28.0px;background:#dfe0e6;border-radius:15px;"></div>
<div class="t" style="top:1378.92px;font-size:21px;line-height:21px;color:#172b4d;left:683.5px;">+</div>
<svg class="a" style="left:668.3px;top:1414.5px;" width="21.0" height="21.0" viewBox="0 0 21 21"><rect width="21" height="21" rx="2.5" fill="#5aa7e7"/><path d="M5.0 11.0L9.0 15.0L16.5 6.5" fill="none" stroke="#fff" stroke-width="3.0" stroke-linecap="round" stroke-linejoin="round"/></svg>
<div class="a" style="left:692.6px;top:1409.5px;width:69.8px;height:32px;overflow:hidden">
<div class="t" style="top:4.19px;font-size:20.8px;line-height:20.8px;color:#505565;font-weight:700;letter-spacing:1.257px;left:-7.0px;">PHT-82</div>
</div>
<div class="a" style="left:772.6px;top:1411.5px;width:70.0px;height:26.0px;background:#44546f;border-radius:5px;"></div>
<div class="t" style="top:1416.39px;font-size:16.5px;line-height:16.5px;color:#fff;font-weight:700;letter-spacing:-0.163px;left:782.0px;">TO DO</div>
<svg class="a" style="left:851.5px;top:1409.0px;" width="31.4" height="31.4" viewBox="0 0 31.4 31.4"><circle cx="15.7" cy="15.7" r="15.7" fill="#e4e4e6"/><g transform="translate(0.0 0.0) scale(1.0)" fill="#6e6e6e"><circle cx="12.300" cy="10.700" r="4.600"/><path d="M3.800 24.600c0.400-4.200 3.600-6.800 8.600-6.800c1.700 0 3.200 0.300 4.400 0.800a6.600 6.600 0 0 0-0.600 6z"/><circle cx="22" cy="19.300" r="3.900"/><g stroke="#6e6e6e" stroke-width="2.700"><path d="M22 13.800v11M17.240 16.550l9.520 5.500M26.760 16.550l-9.520 5.500"/></g><circle cx="22" cy="19.300" r="1.800" fill="#e4e4e6"/></g></svg>
<svg class="a" style="left:898.2px;top:1415.0px;" width="19.0" height="19.0" viewBox="0 0 19 19"><g fill="none" stroke="#8993a4" stroke-width="2"><rect x="6.500" y="1" width="6" height="3.600" rx="1.200"/><rect x="1" y="14.400" width="6" height="3.600" rx="1.200"/><rect x="12" y="14.400" width="6" height="3.600" rx="1.200"/><path d="M9.500 4.600V9.500M4 14.400V11a1.500 1.500 0 0 1 1.500-1.500h8A1.500 1.500 0 0 1 15 11v3.400"/></g></svg>
<svg class="a" style="left:932.0px;top:1409.0px;" width="31.4" height="31.4" viewBox="0 0 31.4 31.4"><circle cx="15.7" cy="15.7" r="15.7" fill="#fdeee1"/><path d="M5.199999999999999 11.799999999999999H26.2M5.199999999999999 19.599999999999998H26.2" stroke="#d96b14" stroke-width="2.700"/></svg>
<div class="a" style="left:1025.2px;top:1287.5px;width:334.5px;height:158.7px;background:#fff;border-radius:5px;box-shadow:0 1px 11px rgba(30,35,60,.22), 0 0 2px rgba(30,35,60,.10);"></div>
<div class="a" style="left:1025.2px;top:1287.5px;width:8.0px;height:158.7px;background:#72c240;border-radius:5px 0 0 5px;"></div>
<div class="a" style="left:1033.2px;top:1291.5px;width:326.5px;height:83px;overflow:hidden">
<div class="t" style="top:8.62px;font-size:22.9px;line-height:22.9px;color:#0a0a0a;letter-spacing:0.547px;left:3.2px;-webkit-text-stroke:0.4px currentColor;">As a user, I want to have a</div>
<div class="t" style="top:40.62px;font-size:22.9px;line-height:22.9px;color:#0a0a0a;letter-spacing:1.027px;left:3.2px;-webkit-text-stroke:0.4px currentColor;">built-in food database to</div>
<div class="t" style="top:72.62px;font-size:22.9px;line-height:22.9px;color:#0a0a0a;letter-spacing:0.760px;left:3.2px;-webkit-text-stroke:0.4px currentColor;">easily search and select the</div>
</div>
<div class="a" style="left:1353.9px;top:1289.0px;width:5.8px;height:51.0px;background:#8b8b8b;border-radius:3px;"></div>
<div class="a" style="left:1034.2px;top:1375.7px;width:51.0px;height:28.0px;background:#dfe0e6;border-radius:15px;"></div>
<div class="t" style="top:1378.92px;font-size:21px;line-height:21px;color:#172b4d;left:1053.1px;">+</div>
<svg class="a" style="left:1037.9px;top:1414.5px;" width="21.0" height="21.0" viewBox="0 0 21 21"><rect width="21" height="21" rx="2.5" fill="#5aa7e7"/><path d="M5.0 11.0L9.0 15.0L16.5 6.5" fill="none" stroke="#fff" stroke-width="3.0" stroke-linecap="round" stroke-linejoin="round"/></svg>
<div class="a" style="left:1062.2px;top:1409.5px;width:69.8px;height:32px;overflow:hidden">
<div class="t" style="top:4.19px;font-size:20.8px;line-height:20.8px;color:#505565;font-weight:700;letter-spacing:0.447px;left:0.5px;">HT-114</div>
</div>
<div class="a" style="left:1142.2px;top:1411.5px;width:70.0px;height:26.0px;background:#44546f;border-radius:5px;"></div>
<div class="t" style="top:1416.39px;font-size:16.5px;line-height:16.5px;color:#fff;font-weight:700;letter-spacing:-0.163px;left:1151.5px;">TO DO</div>
<svg class="a" style="left:1221.1px;top:1409.0px;" width="31.4" height="31.4" viewBox="0 0 31.4 31.4"><circle cx="15.7" cy="15.7" r="15.7" fill="#e4e4e6"/><g transform="translate(0.0 0.0) scale(1.0)" fill="#6e6e6e"><circle cx="12.300" cy="10.700" r="4.600"/><path d="M3.800 24.600c0.400-4.200 3.600-6.800 8.600-6.800c1.700 0 3.200 0.300 4.400 0.800a6.600 6.600 0 0 0-0.600 6z"/><circle cx="22" cy="19.300" r="3.900"/><g stroke="#6e6e6e" stroke-width="2.700"><path d="M22 13.800v11M17.240 16.550l9.520 5.500M26.760 16.550l-9.520 5.500"/></g><circle cx="22" cy="19.300" r="1.800" fill="#e4e4e6"/></g></svg>
<svg class="a" style="left:1267.8px;top:1415.0px;" width="19.0" height="19.0" viewBox="0 0 19 19"><g fill="none" stroke="#8993a4" stroke-width="2"><rect x="6.500" y="1" width="6" height="3.600" rx="1.200"/><rect x="1" y="14.400" width="6" height="3.600" rx="1.200"/><rect x="12" y="14.400" width="6" height="3.600" rx="1.200"/><path d="M9.500 4.600V9.500M4 14.400V11a1.500 1.500 0 0 1 1.500-1.500h8A1.500 1.500 0 0 1 15 11v3.400"/></g></svg>
<svg class="a" style="left:1301.6px;top:1409.0px;" width="31.4" height="31.4" viewBox="0 0 31.4 31.4"><circle cx="15.7" cy="15.7" r="15.7" fill="#fdeee1"/><path d="M5.199999999999999 11.799999999999999H26.2M5.199999999999999 19.599999999999998H26.2" stroke="#d96b14" stroke-width="2.700"/></svg>
<div class="a" style="left:1394.8px;top:1287.5px;width:334.5px;height:158.7px;background:#fff;border-radius:5px;box-shadow:0 1px 11px rgba(30,35,60,.22), 0 0 2px rgba(30,35,60,.10);"></div>
<div class="a" style="left:1394.8px;top:1287.5px;width:8.0px;height:158.7px;background:#5e22f4;border-radius:5px 0 0 5px;"></div>
<div class="a" style="left:1402.8px;top:1291.5px;width:326.5px;height:83px;overflow:hidden">
<div class="t" style="top:8.22px;font-size:22.9px;line-height:22.9px;color:#0a0a0a;letter-spacing:0.842px;left:3.2px;-webkit-text-stroke:0.4px currentColor;">Track food intake trends and</div>
<div class="t" style="top:41.42px;font-size:22.9px;line-height:22.9px;color:#0a0a0a;letter-spacing:1.183px;left:3.2px;-webkit-text-stroke:0.4px currentColor;">patterns</div>
</div>
<div class="a" style="left:1403.8px;top:1375.7px;width:51.0px;height:28.0px;background:#dfe0e6;border-radius:15px;"></div>
<div class="t" style="top:1378.92px;font-size:21px;line-height:21px;color:#172b4d;left:1422.7px;">+</div>
<svg class="a" style="left:1407.5px;top:1414.5px;" width="21.0" height="21.0" viewBox="0 0 21 21"><rect width="21" height="21" rx="2.5" fill="#5aa7e7"/><path d="M5.0 11.0L9.0 15.0L16.5 6.5" fill="none" stroke="#fff" stroke-width="3.0" stroke-linecap="round" stroke-linejoin="round"/></svg>
<div class="a" style="left:1431.8px;top:1409.5px;width:69.8px;height:32px;overflow:hidden">
<div class="t" style="top:4.19px;font-size:20.8px;line-height:20.8px;color:#505565;font-weight:700;letter-spacing:1.257px;left:-7.0px;">PHT-88</div>
</div>
<div class="a" style="left:1511.8px;top:1411.5px;width:70.0px;height:26.0px;background:#44546f;border-radius:5px;"></div>
<div class="t" style="top:1416.39px;font-size:16.5px;line-height:16.5px;color:#fff;font-weight:700;letter-spacing:-0.163px;left:1521.1px;">TO DO</div>
<svg class="a" style="left:1590.7px;top:1409.0px;" width="31.4" height="31.4" viewBox="0 0 31.4 31.4"><circle cx="15.7" cy="15.7" r="15.7" fill="#e4e4e6"/><g transform="translate(0.0 0.0) scale(1.0)" fill="#6e6e6e"><circle cx="12.300" cy="10.700" r="4.600"/><path d="M3.800 24.600c0.400-4.200 3.600-6.800 8.600-6.800c1.700 0 3.200 0.300 4.400 0.800a6.600 6.600 0 0 0-0.600 6z"/><circle cx="22" cy="19.300" r="3.900"/><g stroke="#6e6e6e" stroke-width="2.700"><path d="M22 13.800v11M17.240 16.550l9.520 5.500M26.760 16.550l-9.520 5.500"/></g><circle cx="22" cy="19.300" r="1.800" fill="#e4e4e6"/></g></svg>
<svg class="a" style="left:1637.4px;top:1415.0px;" width="19.0" height="19.0" viewBox="0 0 19 19"><g fill="none" stroke="#8993a4" stroke-width="2"><rect x="6.500" y="1" width="6" height="3.600" rx="1.200"/><rect x="1" y="14.400" width="6" height="3.600" rx="1.200"/><rect x="12" y="14.400" width="6" height="3.600" rx="1.200"/><path d="M9.500 4.600V9.500M4 14.400V11a1.500 1.500 0 0 1 1.500-1.500h8A1.500 1.500 0 0 1 15 11v3.400"/></g></svg>
<svg class="a" style="left:1671.2px;top:1409.0px;" width="31.4" height="31.4" viewBox="0 0 31.4 31.4"><circle cx="15.7" cy="15.7" r="15.7" fill="#fdeee1"/><path d="M5.199999999999999 11.799999999999999H26.2M5.199999999999999 19.599999999999998H26.2" stroke="#d96b14" stroke-width="2.700"/></svg>
<div class="a" style="left:1764.4px;top:1287.5px;width:334.5px;height:158.7px;background:#fff;border-radius:5px;box-shadow:0 1px 11px rgba(30,35,60,.22), 0 0 2px rgba(30,35,60,.10);"></div>
<div class="a" style="left:1764.4px;top:1287.5px;width:8.0px;height:158.7px;background:#5e22f4;border-radius:5px 0 0 5px;"></div>
<div class="a" style="left:1772.4px;top:1291.5px;width:326.5px;height:83px;overflow:hidden">
<div class="t" style="top:8.62px;font-size:22.9px;line-height:22.9px;color:#0a0a0a;letter-spacing:0.594px;left:3.2px;-webkit-text-stroke:0.4px currentColor;">As a user, I want to easily</div>
<div class="t" style="top:40.62px;font-size:22.9px;line-height:22.9px;color:#0a0a0a;letter-spacing:0.938px;left:3.2px;-webkit-text-stroke:0.4px currentColor;">scan barcodes of food</div>
<div class="t" style="top:72.62px;font-size:22.9px;line-height:22.9px;color:#0a0a0a;letter-spacing:0.806px;left:3.2px;-webkit-text-stroke:0.4px currentColor;">items to add them to my</div>
</div>
<div class="a" style="left:1773.4px;top:1375.7px;width:51.0px;height:28.0px;background:#dfe0e6;border-radius:15px;"></div>
<div class="t" style="top:1378.92px;font-size:21px;line-height:21px;color:#172b4d;left:1792.3px;">+</div>
<svg class="a" style="left:1777.1px;top:1414.5px;" width="21.0" height="21.0" viewBox="0 0 21 21"><rect width="21" height="21" rx="2.5" fill="#5aa7e7"/><path d="M5.0 11.0L9.0 15.0L16.5 6.5" fill="none" stroke="#fff" stroke-width="3.0" stroke-linecap="round" stroke-linejoin="round"/></svg>
<div class="a" style="left:1801.4px;top:1409.5px;width:69.8px;height:32px;overflow:hidden">
<div class="t" style="top:4.19px;font-size:20.8px;line-height:20.8px;color:#505565;font-weight:700;letter-spacing:0.447px;left:0.5px;">HT-119</div>
</div>
<div class="a" style="left:1881.4px;top:1411.5px;width:70.0px;height:26.0px;background:#44546f;border-radius:5px;"></div>
<div class="t" style="top:1416.39px;font-size:16.5px;line-height:16.5px;color:#fff;font-weight:700;letter-spacing:-0.163px;left:1890.8px;">TO DO</div>
<svg class="a" style="left:1960.3px;top:1409.0px;" width="31.4" height="31.4" viewBox="147 147 1176 1176"><defs><clipPath id="b13"><circle cx="735" cy="735" r="588"/></clipPath></defs><g clip-path="url(#b13)"><rect x="140" y="140" width="1200" height="1200" fill="#bbb9b2"/><path d="M140 480L520 420L1340 760L1340 1340L140 1340Z" fill="#dcdedb"/><path d="M140 600L500 560L1340 980L1340 1100L480 700L140 740Z" fill="#eceeeb"/><path d="M980 700L1340 840L1340 760L1000 600Z" fill="#c4c2bb"/><path d="M340 1340C350 1180 450 1090 600 1050L900 1040C1040 1080 1110 1180 1130 1340Z" fill="#22202c"/><path d="M420 1130l70-50M520 1230l60-70M560 1060l40 60M930 1100l70 40M1000 1200l60 30M860 1180l50 60M440 1260l50 40" stroke="#e9e6ee" stroke-width="42"/><path d="M600 930L880 880L900 1180L760 1320L640 1300Z" fill="#c9a07c"/><path d="M900 620c50-10 80 30 70 90c-10 50-40 80-70 70z" fill="#d9ae8e"/><path d="M500 560C500 470 600 420 720 430C840 440 910 520 900 640C890 800 820 960 690 970C580 960 500 820 490 700Z" fill="#eccbb0"/><path d="M760 500C860 520 900 600 890 700C880 820 820 930 740 960C800 860 820 700 760 500Z" fill="#d6a988"/><path d="M480 640C450 520 480 380 580 320C680 270 820 300 900 390C960 450 960 560 930 660L890 650C890 560 860 500 790 470C700 450 600 460 540 490C510 530 510 590 500 640Z" fill="#17161a"/><g fill="none" stroke="#4b3c37" stroke-width="26"><rect x="455" y="612" width="190" height="105" rx="36"/><rect x="690" y="610" width="150" height="100" rx="34"/><path d="M645 650h45M840 640l70-10"/></g><path d="M580 840c40 25 90 25 130 0" stroke="#c9707a" stroke-width="30" fill="none"/></g></svg>
<svg class="a" style="left:2007.0px;top:1415.0px;" width="19.0" height="19.0" viewBox="0 0 19 19"><g fill="none" stroke="#8993a4" stroke-width="2"><rect x="6.500" y="1" width="6" height="3.600" rx="1.200"/><rect x="1" y="14.400" width="6" height="3.600" rx="1.200"/><rect x="12" y="14.400" width="6" height="3.600" rx="1.200"/><path d="M9.500 4.600V9.500M4 14.400V11a1.500 1.500 0 0 1 1.500-1.500h8A1.500 1.500 0 0 1 15 11v3.400"/></g></svg>
<div class="a" style="left:286.0px;top:1481.0px;width:334.5px;height:158.7px;background:#fff;border-radius:5px;box-shadow:0 1px 11px rgba(30,35,60,.22), 0 0 2px rgba(30,35,60,.10);"></div>
<div class="a" style="left:286.0px;top:1481.0px;width:8.0px;height:158.7px;background:#72c240;border-radius:5px 0 0 5px;"></div>
<div class="a" style="left:294.0px;top:1485.0px;width:326.5px;height:83px;overflow:hidden">
<div class="t" style="top:8.22px;font-size:22.9px;line-height:22.9px;color:#0a0a0a;letter-spacing:0.762px;left:3.2px;-webkit-text-stroke:0.4px currentColor;">Set daily calorie intake goal</div>
</div>
<div class="a" style="left:295.0px;top:1569.2px;width:51.0px;height:28.0px;background:#dfe0e6;border-radius:15px;"></div>
<div class="t" style="top:1572.42px;font-size:21px;line-height:21px;color:#172b4d;left:313.9px;">+</div>
<svg class="a" style="left:298.7px;top:1608.0px;" width="21.0" height="21.0" viewBox="0 0 21 21"><rect width="21" height="21" rx="2.5" fill="#5aa7e7"/><path d="M5.0 11.0L9.0 15.0L16.5 6.5" fill="none" stroke="#fff" stroke-width="3.0" stroke-linecap="round" stroke-linejoin="round"/></svg>
<div class="a" style="left:323.0px;top:1603.0px;width:69.8px;height:32px;overflow:hidden">
<div class="t" style="top:4.19px;font-size:20.8px;line-height:20.8px;color:#505565;font-weight:700;letter-spacing:1.257px;left:-7.0px;">PHT-32</div>
</div>
<div class="a" style="left:403.0px;top:1605.0px;width:70.0px;height:26.0px;background:#44546f;border-radius:5px;"></div>
<div class="t" style="top:1609.89px;font-size:16.5px;line-height:16.5px;color:#fff;font-weight:700;letter-spacing:-0.163px;left:412.4px;">TO DO</div>
<svg class="a" style="left:481.9px;top:1602.5px;" width="31.4" height="31.4" viewBox="0 0 31.4 31.4"><circle cx="15.7" cy="15.7" r="15.7" fill="#e4e4e6"/><g transform="translate(0.0 0.0) scale(1.0)" fill="#6e6e6e"><circle cx="12.300" cy="10.700" r="4.600"/><path d="M3.800 24.600c0.400-4.200 3.600-6.800 8.600-6.800c1.700 0 3.200 0.300 4.400 0.800a6.600 6.600 0 0 0-0.600 6z"/><circle cx="22" cy="19.300" r="3.900"/><g stroke="#6e6e6e" stroke-width="2.700"><path d="M22 13.800v11M17.240 16.550l9.520 5.500M26.760 16.550l-9.520 5.500"/></g><circle cx="22" cy="19.300" r="1.800" fill="#e4e4e6"/></g></svg>
<svg class="a" style="left:528.6px;top:1608.5px;" width="19.0" height="19.0" viewBox="0 0 19 19"><g fill="none" stroke="#8993a4" stroke-width="2"><rect x="6.500" y="1" width="6" height="3.600" rx="1.200"/><rect x="1" y="14.400" width="6" height="3.600" rx="1.200"/><rect x="12" y="14.400" width="6" height="3.600" rx="1.200"/><path d="M9.500 4.600V9.500M4 14.400V11a1.500 1.500 0 0 1 1.500-1.500h8A1.500 1.500 0 0 1 15 11v3.400"/></g></svg>
<svg class="a" style="left:562.4px;top:1602.5px;" width="31.4" height="31.4" viewBox="0 0 31.4 31.4"><circle cx="15.7" cy="15.7" r="15.7" fill="#fdeee1"/><path d="M5.199999999999999 11.799999999999999H26.2M5.199999999999999 19.599999999999998H26.2" stroke="#d96b14" stroke-width="2.700"/></svg>
<div class="a" style="left:655.6px;top:1481.0px;width:334.5px;height:158.7px;background:#fff;border-radius:5px;box-shadow:0 1px 11px rgba(30,35,60,.22), 0 0 2px rgba(30,35,60,.10);"></div>
<div class="a" style="left:655.6px;top:1481.0px;width:8.0px;height:158.7px;background:#72c240;border-radius:5px 0 0 5px;"></div>
<div class="a" style="left:663.6px;top:1485.0px;width:326.5px;height:83px;overflow:hidden">
<div class="t" style="top:8.22px;font-size:22.9px;line-height:22.9px;color:#0a0a0a;letter-spacing:0.824px;left:3.2px;-webkit-text-stroke:0.4px currentColor;">Track fat intake</div>
</div>
<div class="a" style="left:664.6px;top:1569.2px;width:51.0px;height:28.0px;background:#dfe0e6;border-radius:15px;"></div>
<div class="t" style="top:1572.42px;font-size:21px;line-height:21px;color:#172b4d;left:683.5px;">+</div>
<svg class="a" style="left:668.3px;top:1608.0px;" width="21.0" height="21.0" viewBox="0 0 21 21"><rect width="21" height="21" rx="2.5" fill="#5aa7e7"/><path d="M5.0 11.0L9.0 15.0L16.5 6.5" fill="none" stroke="#fff" stroke-width="3.0" stroke-linecap="round" stroke-linejoin="round"/></svg>
<div class="a" style="left:692.6px;top:1603.0px;width:69.8px;height:32px;overflow:hidden">
<div class="t" style="top:4.19px;font-size:20.8px;line-height:20.8px;color:#505565;font-weight:700;letter-spacing:1.257px;left:-7.0px;">PHT-83</div>
</div>
<div class="a" style="left:772.6px;top:1605.0px;width:70.0px;height:26.0px;background:#44546f;border-radius:5px;"></div>
<div class="t" style="top:1609.89px;font-size:16.5px;line-height:16.5px;color:#fff;font-weight:700;letter-spacing:-0.163px;left:782.0px;">TO DO</div>
<svg class="a" style="left:851.5px;top:1602.5px;" width="31.4" height="31.4" viewBox="0 0 31.4 31.4"><circle cx="15.7" cy="15.7" r="15.7" fill="#e4e4e6"/><g transform="translate(0.0 0.0) scale(1.0)" fill="#6e6e6e"><circle cx="12.300" cy="10.700" r="4.600"/><path d="M3.800 24.600c0.400-4.200 3.600-6.800 8.600-6.800c1.700 0 3.200 0.300 4.400 0.800a6.600 6.600 0 0 0-0.600 6z"/><circle cx="22" cy="19.300" r="3.900"/><g stroke="#6e6e6e" stroke-width="2.700"><path d="M22 13.800v11M17.240 16.550l9.520 5.500M26.760 16.550l-9.520 5.500"/></g><circle cx="22" cy="19.300" r="1.800" fill="#e4e4e6"/></g></svg>
<svg class="a" style="left:898.2px;top:1608.5px;" width="19.0" height="19.0" viewBox="0 0 19 19"><g fill="none" stroke="#8993a4" stroke-width="2"><rect x="6.500" y="1" width="6" height="3.600" rx="1.200"/><rect x="1" y="14.400" width="6" height="3.600" rx="1.200"/><rect x="12" y="14.400" width="6" height="3.600" rx="1.200"/><path d="M9.500 4.600V9.500M4 14.400V11a1.500 1.500 0 0 1 1.500-1.500h8A1.500 1.500 0 0 1 15 11v3.400"/></g></svg>
<svg class="a" style="left:932.0px;top:1602.5px;" width="31.4" height="31.4" viewBox="0 0 31.4 31.4"><circle cx="15.7" cy="15.7" r="15.7" fill="#fdeee1"/><path d="M5.199999999999999 11.799999999999999H26.2M5.199999999999999 19.599999999999998H26.2" stroke="#d96b14" stroke-width="2.700"/></svg>
<div class="a" style="left:1615.0px;top:1527.0px;width:374.0px;height:66.0px;background:#ececec;border-radius:33px;overflow:hidden;"><div class="a" style="left:0;top:0;width:110px;height:66px;background:#e4e4e4"></div><div class="a" style="left:264px;top:0;width:110px;height:66px;background:#e4e4e4"></div></div>
<div class="t" style="top:1542.53px;font-size:36px;line-height:36px;color:#172b4d;font-weight:700;left:1664.0px;">-</div>
<div class="t" style="top:1544.52px;font-size:31.8725px;line-height:31.8725px;color:#172b4d;letter-spacing:0.617px;left:1764.5px;-webkit-text-stroke:0.9px currentColor;">80%</div>
<div class="t" style="top:1543.33px;font-size:38px;line-height:38px;color:#172b4d;left:1922.4px;-webkit-text-stroke:0.9px currentColor;">+</div>
<div class="a" style="left:2038.0px;top:455.0px;width:16.0px;height:1225.0px;background:#f7f8fc;"></div>
<div class="a" style="left:2038.0px;top:455.0px;width:16.0px;height:173.0px;background:#a0a0a0;border-radius:8px;"></div>
<div class="a" style="left:2054.0px;top:105.0px;width:826.0px;height:1575.0px;background:#fdfdfd;box-shadow:-2px 0 8px rgba(40,50,90,.10);border-left:1.5px solid #e3e5ee;box-sizing:border-box;"></div>
<div class="a" style="left:2068.0px;top:125.0px;width:798.0px;height:472.0px;border-radius:3px;border:6px solid #f0913a;box-sizing:border-box;box-shadow:0 0 8px rgba(0,0,0,.15);"></div>
<div class="a" style="left:2101.5px;top:151.5px;width:732.0px;height:65.0px;background:#fff;border-radius:9px;border:1.5px solid #e3e4ea;box-sizing:border-box;"></div>
<div class="t" style="top:169.61px;font-size:32px;line-height:32px;color:#172b4d;letter-spacing:-2.000px;left:2117.0px;">PHT</div>
<div class="a" style="left:2770.0px;top:157.0px;width:53.0px;height:52.5px;background:#2c62dd;border-radius:9px;"></div>
<svg class="a" style="left:2783.5px;top:170.0px;" width="27.0" height="27.0" viewBox="0 0 27 27"><circle cx="11.475000000000001" cy="11.475000000000001" r="9.652500000000002" fill="none" stroke="#fff" stroke-width="3.6"/><path d="M18.5625 18.5625L24.975 24.975" stroke="#fff" stroke-width="3.6" stroke-linecap="round"/></svg>
<svg class="a" style="left:2106.0px;top:252.0px;" width="25.0" height="17.3" viewBox="0 0 25 17.307692307692307"><path d="M0 1.5384615384615385H25.0M4.326923076923077 8.269230769230768H20.673076923076923" stroke="#5a9bf6" stroke-width="2.6"/><path d="M9.615384615384615 13.461538461538462h5.769230769230769l-2.8846153846153846 3.3653846153846154z" fill="#5a9bf6"/></svg>
<div class="t" style="top:245.98px;font-size:32.394999999999996px;line-height:32.394999999999996px;color:#5a9bf6;letter-spacing:-0.820px;left:2137.0px;">Show less</div>
<div class="t" style="top:248.06px;font-size:31.349999999999998px;line-height:31.349999999999998px;color:#44546f;letter-spacing:0.440px;left:2614.0px;-webkit-text-stroke:0.6px currentColor;">Newest First</div>
<svg class="a" style="left:2812.0px;top:256.5px;" width="17.4" height="11.4" viewBox="0 0 17.4 11.4"><path d="M1.7 1.7L8.7 9.7L15.7 1.7" fill="none" stroke="#172b4d" stroke-width="3.4" stroke-linecap="round" stroke-linejoin="round"/></svg>
<div class="a" style="left:2101.0px;top:309.0px;width:733.0px;height:78.5px;background:#f0f1f3;border-radius:9px;"></div>
<div class="t" style="top:335.40px;font-size:30.827499999999997px;line-height:30.827499999999997px;color:#172b4d;letter-spacing:0.717px;left:2341.5px;-webkit-text-stroke:0.6px currentColor;">Assignees (0)</div>
<svg class="a" style="left:2778.5px;top:342.5px;" width="18.7" height="12.7" viewBox="0 0 18.7 12.7"><path d="M2.1 2.1L9.35 10.6L16.6 2.1" fill="none" stroke="#172b4d" stroke-width="4.2" stroke-linecap="round" stroke-linejoin="round"/></svg>
<div class="a" style="left:2101.0px;top:397.0px;width:733.0px;height:78.5px;background:#f0f1f3;border-radius:9px;"></div>
<div class="t" style="top:423.40px;font-size:30.827499999999997px;line-height:30.827499999999997px;color:#172b4d;letter-spacing:0.898px;left:2352.0px;-webkit-text-stroke:0.6px currentColor;">Statuses (0)</div>
<svg class="a" style="left:2778.5px;top:430.5px;" width="18.7" height="12.7" viewBox="0 0 18.7 12.7"><path d="M2.1 2.1L9.35 10.6L16.6 2.1" fill="none" stroke="#172b4d" stroke-width="4.2" stroke-linecap="round" stroke-linejoin="round"/></svg>
<div class="a" style="left:2101.0px;top:485.0px;width:733.0px;height:78.5px;background:#f0f1f3;border-radius:9px;"></div>
<div class="t" style="top:511.40px;font-size:30.827499999999997px;line-height:30.827499999999997px;color:#172b4d;letter-spacing:0.852px;left:2333.0px;-webkit-text-stroke:0.6px currentColor;">Issue types (0)</div>
<svg class="a" style="left:2778.5px;top:518.5px;" width="18.7" height="12.7" viewBox="0 0 18.7 12.7"><path d="M2.1 2.1L9.35 10.6L16.6 2.1" fill="none" stroke="#172b4d" stroke-width="4.2" stroke-linecap="round" stroke-linejoin="round"/></svg>
<div class="t" style="top:645.97px;font-size:28.737499999999997px;line-height:28.737499999999997px;color:#172b4d;font-style:italic;letter-spacing:0.609px;left:2097.0px;">Drag and drop to plan</div>
<div class="t" style="top:641.30px;font-size:34.5px;line-height:34.5px;color:#172b4d;letter-spacing:-0.851px;left:2572.0px;">Showing 14 Issues</div>
<div class="a" style="left:2054px;top:703px;width:826px;height:967px;overflow:hidden">
<div class="a" style="left:38.0px;top:7.5px;width:729.0px;height:261.5px;background:#fff;border-radius:8px;box-shadow:0 1px 3px rgba(30,40,80,.28), 0 0 1px rgba(30,40,80,.25);"></div>
<div class="t" style="top:45.09px;font-size:28.842px;line-height:28.842px;color:#172b4d;letter-spacing:0.400px;left:70.0px;">As a user, I want to establish personalized oxygen</div>
<div class="t" style="top:86.09px;font-size:28.842px;line-height:28.842px;color:#172b4d;letter-spacing:0.598px;left:70.0px;">saturation levels tailored to my respiratory health</div>
<div class="t" style="top:127.09px;font-size:28.842px;line-height:28.842px;color:#172b4d;letter-spacing:0.842px;left:70.0px;">condition.</div>
<div class="a" style="left:719.0px;top:16.5px;width:38.5px;height:38.5px;background:#fff;border-radius:20px;border:4.2px solid #5e6c84;box-sizing:border-box;"></div>
<div class="a" style="left:60.0px;top:208.0px;width:96.0px;height:34.5px;background:#44546f;border-radius:5px;"></div>
<div class="t" style="top:213.57px;font-size:25.08px;line-height:25.08px;color:#fff;font-weight:700;letter-spacing:-0.492px;left:69.5px;">TO DO</div>
<svg class="a" style="left:167.0px;top:201.0px;" width="40.0" height="40.0" viewBox="0 0 40 40"><circle cx="20.0" cy="20.0" r="20.0" fill="#e2e2e6"/><g transform="translate(0.0 0.0) scale(1.2738853503184715)" fill="#6b6b6b"><circle cx="12.300" cy="10.700" r="4.600"/><path d="M3.800 24.600c0.400-4.200 3.600-6.800 8.600-6.800c1.700 0 3.200 0.300 4.400 0.800a6.600 6.600 0 0 0-0.600 6z"/><circle cx="22" cy="19.300" r="3.900"/><g stroke="#6b6b6b" stroke-width="2.700"><path d="M22 13.800v11M17.240 16.550l9.520 5.500M26.760 16.550l-9.520 5.500"/></g><circle cx="22" cy="19.300" r="1.800" fill="#e2e2e6"/></g></svg>
<svg class="a" style="left:218.0px;top:201.0px;" width="40.0" height="40.0" viewBox="0 0 40 40"><circle cx="20.0" cy="20.0" r="20.0" fill="#e2e2e6"/><g fill="#666"><rect x="12.0" y="11.5" width="16" height="2.600" rx="0.800"/><rect x="17.0" y="9.5" width="6" height="2.600" rx="0.800"/><path d="M13.5 15.5h13v12a1.800 1.800 0 0 1-1.800 1.800h-9.400a1.800 1.800 0 0 1-1.800-1.800z"/></g><path d="M17.0 18.0v9M20.0 18.0v9M23.0 18.0v9" stroke="#e2e2e6" stroke-width="1.500"/></svg>
<svg class="a" style="left:587.0px;top:202.0px;" width="34.5" height="34.5" viewBox="0 0 34.5 34.5"><rect width="34.5" height="34.5" rx="3" fill="#5aa7e7"/><path d="M8.214285714285714 18.07142857142857L14.785714285714285 24.642857142857142L27.107142857142858 10.678571428571429" fill="none" stroke="#fff" stroke-width="4.928571428571429" stroke-linecap="round" stroke-linejoin="round"/></svg>
<div class="t" style="top:206.74px;font-size:26.3px;line-height:26.3px;color:#4d5266;font-weight:700;letter-spacing:1.118px;left:646.5px;">...T-269</div>
<div class="a" style="left:38.0px;top:282.5px;width:729.0px;height:261.5px;background:#fff;border-radius:8px;box-shadow:0 1px 3px rgba(30,40,80,.28), 0 0 1px rgba(30,40,80,.25);"></div>
<div class="t" style="top:320.09px;font-size:28.842px;line-height:28.842px;color:#172b4d;letter-spacing:0.459px;left:70.0px;">As a user, I want to customize my cholesterol</div>
<div class="t" style="top:361.09px;font-size:28.842px;line-height:28.842px;color:#172b4d;letter-spacing:0.526px;left:70.0px;">levels based on my healthcare provider&#x27;s</div>
<div class="t" style="top:402.09px;font-size:28.842px;line-height:28.842px;color:#172b4d;letter-spacing:0.590px;left:70.0px;">recommendations.</div>
<div class="a" style="left:719.0px;top:291.5px;width:38.5px;height:38.5px;background:#fff;border-radius:20px;border:4.2px solid #5e6c84;box-sizing:border-box;"></div>
<div class="a" style="left:60.0px;top:483.0px;width:96.0px;height:34.5px;background:#44546f;border-radius:5px;"></div>
<div class="t" style="top:488.57px;font-size:25.08px;line-height:25.08px;color:#fff;font-weight:700;letter-spacing:-0.492px;left:69.5px;">TO DO</div>
<svg class="a" style="left:167.0px;top:476.0px;" width="40.0" height="40.0" viewBox="0 0 40 40"><circle cx="20.0" cy="20.0" r="20.0" fill="#e2e2e6"/><g transform="translate(0.0 0.0) scale(1.2738853503184715)" fill="#6b6b6b"><circle cx="12.300" cy="10.700" r="4.600"/><path d="M3.800 24.600c0.400-4.200 3.600-6.800 8.600-6.800c1.700 0 3.200 0.300 4.400 0.800a6.600 6.600 0 0 0-0.600 6z"/><circle cx="22" cy="19.300" r="3.900"/><g stroke="#6b6b6b" stroke-width="2.700"><path d="M22 13.800v11M17.240 16.550l9.520 5.500M26.760 16.550l-9.520 5.500"/></g><circle cx="22" cy="19.300" r="1.800" fill="#e2e2e6"/></g></svg>
<svg class="a" style="left:218.0px;top:476.0px;" width="40.0" height="40.0" viewBox="0 0 40 40"><circle cx="20.0" cy="20.0" r="20.0" fill="#e2e2e6"/><g fill="#666"><rect x="12.0" y="11.5" width="16" height="2.600" rx="0.800"/><rect x="17.0" y="9.5" width="6" height="2.600" rx="0.800"/><path d="M13.5 15.5h13v12a1.800 1.800 0 0 1-1.800 1.800h-9.400a1.800 1.800 0 0 1-1.800-1.800z"/></g><path d="M17.0 18.0v9M20.0 18.0v9M23.0 18.0v9" stroke="#e2e2e6" stroke-width="1.500"/></svg>
<svg class="a" style="left:587.0px;top:477.0px;" width="34.5" height="34.5" viewBox="0 0 34.5 34.5"><rect width="34.5" height="34.5" rx="3" fill="#5aa7e7"/><path d="M8.214285714285714 18.07142857142857L14.785714285714285 24.642857142857142L27.107142857142858 10.678571428571429" fill="none" stroke="#fff" stroke-width="4.928571428571429" stroke-linecap="round" stroke-linejoin="round"/></svg>
<div class="t" style="top:481.74px;font-size:26.3px;line-height:26.3px;color:#4d5266;font-weight:700;letter-spacing:1.118px;left:646.5px;">...T-268</div>
<div class="a" style="left:38.0px;top:557.5px;width:729.0px;height:261.5px;background:#fff;border-radius:8px;box-shadow:0 1px 3px rgba(30,40,80,.28), 0 0 1px rgba(30,40,80,.25);"></div>
<div class="t" style="top:595.09px;font-size:28.842px;line-height:28.842px;color:#172b4d;letter-spacing:0.398px;left:70.0px;">As a user, I want to set my own ideal heart rate</div>
<div class="t" style="top:636.09px;font-size:28.842px;line-height:28.842px;color:#172b4d;letter-spacing:0.774px;left:70.0px;">range for different types of workouts.</div>
<div class="a" style="left:719.0px;top:566.5px;width:38.5px;height:38.5px;background:#fff;border-radius:20px;border:4.2px solid #5e6c84;box-sizing:border-box;"></div>
<div class="a" style="left:60.0px;top:758.0px;width:96.0px;height:34.5px;background:#44546f;border-radius:5px;"></div>
<div class="t" style="top:763.57px;font-size:25.08px;line-height:25.08px;color:#fff;font-weight:700;letter-spacing:-0.492px;left:69.5px;">TO DO</div>
<svg class="a" style="left:167.0px;top:751.0px;" width="40.0" height="40.0" viewBox="0 0 40 40"><circle cx="20.0" cy="20.0" r="20.0" fill="#e2e2e6"/><g transform="translate(0.0 0.0) scale(1.2738853503184715)" fill="#6b6b6b"><circle cx="12.300" cy="10.700" r="4.600"/><path d="M3.800 24.600c0.400-4.200 3.600-6.800 8.600-6.800c1.700 0 3.200 0.300 4.400 0.800a6.600 6.600 0 0 0-0.600 6z"/><circle cx="22" cy="19.300" r="3.900"/><g stroke="#6b6b6b" stroke-width="2.700"><path d="M22 13.800v11M17.240 16.550l9.520 5.500M26.760 16.550l-9.520 5.500"/></g><circle cx="22" cy="19.300" r="1.800" fill="#e2e2e6"/></g></svg>
<svg class="a" style="left:218.0px;top:751.0px;" width="40.0" height="40.0" viewBox="0 0 40 40"><circle cx="20.0" cy="20.0" r="20.0" fill="#e2e2e6"/><g fill="#666"><rect x="12.0" y="11.5" width="16" height="2.600" rx="0.800"/><rect x="17.0" y="9.5" width="6" height="2.600" rx="0.800"/><path d="M13.5 15.5h13v12a1.800 1.800 0 0 1-1.800 1.800h-9.400a1.800 1.800 0 0 1-1.800-1.800z"/></g><path d="M17.0 18.0v9M20.0 18.0v9M23.0 18.0v9" stroke="#e2e2e6" stroke-width="1.500"/></svg>
<svg class="a" style="left:587.0px;top:752.0px;" width="34.5" height="34.5" viewBox="0 0 34.5 34.5"><rect width="34.5" height="34.5" rx="3" fill="#5aa7e7"/><path d="M8.214285714285714 18.07142857142857L14.785714285714285 24.642857142857142L27.107142857142858 10.678571428571429" fill="none" stroke="#fff" stroke-width="4.928571428571429" stroke-linecap="round" stroke-linejoin="round"/></svg>
<div class="t" style="top:756.74px;font-size:26.3px;line-height:26.3px;color:#4d5266;font-weight:700;letter-spacing:1.118px;left:646.5px;">...T-266</div>
<div class="a" style="left:38.0px;top:832.5px;width:729.0px;height:261.5px;background:#fff;border-radius:8px;box-shadow:0 1px 3px rgba(30,40,80,.28), 0 0 1px rgba(30,40,80,.25);"></div>
<div class="t" style="top:870.09px;font-size:28.842px;line-height:28.842px;color:#172b4d;letter-spacing:0.444px;left:70.0px;">As a user, I want to customize my blood pressure</div>
<div class="t" style="top:911.09px;font-size:28.842px;line-height:28.842px;color:#172b4d;letter-spacing:0.543px;left:70.0px;">thresholds based on my personal health history.</div>
<div class="a" style="left:719.0px;top:841.5px;width:38.5px;height:38.5px;background:#fff;border-radius:20px;border:4.2px solid #5e6c84;box-sizing:border-box;"></div>
<div class="a" style="left:60.0px;top:1033.0px;width:96.0px;height:34.5px;background:#44546f;border-radius:5px;"></div>
<div class="t" style="top:1038.57px;font-size:25.08px;line-height:25.08px;color:#fff;font-weight:700;letter-spacing:-0.492px;left:69.5px;">TO DO</div>
<svg class="a" style="left:167.0px;top:1026.0px;" width="40.0" height="40.0" viewBox="0 0 40 40"><circle cx="20.0" cy="20.0" r="20.0" fill="#e2e2e6"/><g transform="translate(0.0 0.0) scale(1.2738853503184715)" fill="#6b6b6b"><circle cx="12.300" cy="10.700" r="4.600"/><path d="M3.800 24.600c0.400-4.200 3.600-6.800 8.600-6.800c1.700 0 3.200 0.300 4.400 0.800a6.600 6.600 0 0 0-0.600 6z"/><circle cx="22" cy="19.300" r="3.900"/><g stroke="#6b6b6b" stroke-width="2.700"><path d="M22 13.800v11M17.240 16.550l9.520 5.500M26.760 16.550l-9.520 5.500"/></g><circle cx="22" cy="19.300" r="1.800" fill="#e2e2e6"/></g></svg>
<svg class="a" style="left:218.0px;top:1026.0px;" width="40.0" height="40.0" viewBox="0 0 40 40"><circle cx="20.0" cy="20.0" r="20.0" fill="#e2e2e6"/><g fill="#666"><rect x="12.0" y="11.5" width="16" height="2.600" rx="0.800"/><rect x="17.0" y="9.5" width="6" height="2.600" rx="0.800"/><path d="M13.5 15.5h13v12a1.800 1.800 0 0 1-1.800 1.800h-9.400a1.800 1.800 0 0 1-1.800-1.800z"/></g><path d="M17.0 18.0v9M20.0 18.0v9M23.0 18.0v9" stroke="#e2e2e6" stroke-width="1.500"/></svg>
<svg class="a" style="left:587.0px;top:1027.0px;" width="34.5" height="34.5" viewBox="0 0 34.5 34.5"><rect width="34.5" height="34.5" rx="3" fill="#5aa7e7"/><path d="M8.214285714285714 18.07142857142857L14.785714285714285 24.642857142857142L27.107142857142858 10.678571428571429" fill="none" stroke="#fff" stroke-width="4.928571428571429" stroke-linecap="round" stroke-linejoin="round"/></svg>
<div class="t" style="top:1031.74px;font-size:26.3px;line-height:26.3px;color:#4d5266;font-weight:700;letter-spacing:1.118px;left:646.5px;">...T-265</div>
</div>
<div class="a" style="left:2836.0px;top:703.0px;width:22.0px;height:967.0px;background:#fafafa;border:1.5px solid #d9d9de;box-sizing:border-box;"></div>
<div class="a" style="left:2837.0px;top:771.0px;width:21.0px;height:243.0px;background:#8b8b8b;border-radius:11px;"></div>
<div class="a" style="left:0.0px;top:0.0px;width:2880.0px;height:104.5px;background:#fff;box-shadow:0 2px 10px rgba(30,40,70,.16);"></div>
<svg class="a" style="left:53.0px;top:35.5px;" width="34.0" height="32.0" viewBox="0 0 34 32"><path d="M31 16H4M16 3L3.5 16L16 29" fill="none" stroke="#172b4d" stroke-width="4.6" stroke-linecap="round" stroke-linejoin="round"/></svg>
<svg class="a" style="left:123.0px;top:30.0px;" width="44.0" height="44.0" viewBox="0 0 44 44"><rect width="44" height="44" rx="4" fill="#5bc3e1"/><rect x="6" y="14" width="19" height="15" rx="1.5" fill="#4a32a0"/><rect x="6" y="14" width="19" height="7" rx="1.5" fill="#5a3fb4"/><rect x="24" y="14" width="12" height="15" rx="1.5" fill="#f0a43c"/><rect x="24" y="14" width="12" height="7" rx="1.5" fill="#f7bf4a"/><rect x="36" y="18" width="2.5" height="7" rx="1" fill="#ffffff"/><path d="M28 21.5h5M30.5 19v5" stroke="#4a32a0" stroke-width="1.4"/></svg>
<div class="t" style="top:36.78px;font-size:32.394999999999996px;line-height:32.394999999999996px;color:#172b4d;letter-spacing:0.012px;left:177.0px;-webkit-text-stroke:0.45px currentColor;">Peaceful - Health Trackin...</div>
<svg class="a" style="left:602.0px;top:46.0px;" width="18.2" height="12.7" viewBox="0 0 18.2 12.7"><path d="M2.1 2.1L9.1 10.6L16.1 2.1" fill="none" stroke="#172b4d" stroke-width="4.2" stroke-linecap="round" stroke-linejoin="round"/></svg>
<div class="a" style="left:842.0px;top:17.0px;width:265.0px;height:70.0px;background:#f1f2f4;border-radius:7px;"></div>
<div class="t" style="top:36.78px;font-size:32.394999999999996px;line-height:32.394999999999996px;color:#172b4d;letter-spacing:0.553px;left:869.0px;-webkit-text-stroke:0.45px currentColor;">Quick filter</div>
<svg class="a" style="left:1049.5px;top:43.5px;" width="25.6" height="17.1" viewBox="0 0 25.6 17.1"><path d="M2.3 2.3L12.8 14.8L23.3 2.3" fill="none" stroke="#172b4d" stroke-width="4.6" stroke-linecap="round" stroke-linejoin="round"/></svg>
<svg class="a" style="left:1142.0px;top:34.0px;" width="35.0" height="35.0" viewBox="0 0 35 35"><path d="M2.5 11V5.5a3 3 0 0 1 3-3H11 M24 2.5h5.5a3 3 0 0 1 3 3V11 M32.5 24v5.5a3 3 0 0 1-3 3H24 M11 32.5H5.5a3 3 0 0 1-3-3V24" fill="none" stroke="#172b4d" stroke-width="5" stroke-linecap="round" stroke-linejoin="round"/></svg>
<div class="a" style="left:1212.0px;top:17.0px;width:190.0px;height:70.0px;background:#253858;border-radius:8px 0 0 8px;"></div>
<div class="t" style="top:38.43px;font-size:29.259999999999998px;line-height:29.259999999999998px;color:#fff;letter-spacing:0.213px;left:1239.5px;-webkit-text-stroke:0.45px currentColor;">Story map</div>
<div class="a" style="left:1402.0px;top:17.0px;width:178.0px;height:70.0px;background:#f1f2f4;border-radius:0 8px 8px 0;"></div>
<div class="t" style="top:38.43px;font-size:29.259999999999998px;line-height:29.259999999999998px;color:#44546f;letter-spacing:-0.471px;left:1429.5px;-webkit-text-stroke:0.4px currentColor;">Roadmap</div>
<svg class="a" style="left:1606.0px;top:25.0px;" width="53.0" height="53.0" viewBox="0 0 53 53"><path d="M26.4 0V10M26.4 43V53M0 26.4H10.5M43 26.4H53" stroke="#4c9af0" stroke-width="5.2"/><path d="M9.5 11L15.5 16M43.5 11L37.5 16M9.5 42L15.5 37M43.5 42L37.5 37" stroke="#7ac143" stroke-width="6.4"/><path d="M34 23.5L26.4 15.8L15.8 26.4L21.5 32.2" fill="none" stroke="#4c9af0" stroke-width="5" stroke-linejoin="miter"/><path d="M26.4 21.2L31.599999999999998 26.4L26.4 31.599999999999998L21.2 26.4Z" fill="#4c9af0"/><path d="M21.8 33.2L26.9 38.3L39.3 25.8" fill="none" stroke="#7ac143" stroke-width="4.6"/></svg>
<svg class="a" style="left:1705.0px;top:36.0px;" width="31.0" height="31.0" viewBox="0 0 31 31"><rect x="0" y="0" width="31" height="4.5" rx="2.2" fill="#172b4d"/><rect x="0" y="8" width="31" height="15" rx="2.5" fill="#172b4d"/><rect x="0" y="26.5" width="31" height="4.5" rx="2.2" fill="#172b4d"/></svg>
<svg class="a" style="left:1788.0px;top:31.0px;" width="40.0" height="40.0" viewBox="0 0 40 40"><circle cx="17.0" cy="17.0" r="14.3" fill="none" stroke="#172b4d" stroke-width="5"/><path d="M27.5 27.5L37.0 37.0" stroke="#172b4d" stroke-width="5" stroke-linecap="round"/></svg>
<svg class="a" style="left:1883.0px;top:31.0px;" width="46.0" height="41.0" viewBox="0 0 46 41"><g fill="#172b4d"><circle cx="11.3" cy="7" r="6.4"/><circle cx="33.5" cy="7" r="6.4"/><path d="M0.300 22.500a6.500 6.500 0 0 1 6.500-6.500h10v17.500h-6a10.500 5.500 0 0 1-10.500-5z"/><path d="M44.500 22.500a6.500 6.500 0 0 0-6.500-6.500h-10v17.500h6a10.500 5.500 0 0 0 10.500-5z"/></g><circle cx="22.400" cy="14.200" r="7.400" fill="#172b4d" stroke="#fff" stroke-width="1.700"/><path d="M11.200 31a8 8 0 0 1 8-8h6.400a8 8 0 0 1 8 8v2.500a11.200 6.800 0 0 1-22.400 0z" fill="#172b4d" stroke="#fff" stroke-width="1.700"/></svg>
<div class="t" style="top:36.78px;font-size:32.394999999999996px;line-height:32.394999999999996px;color:#172b4d;letter-spacing:-0.683px;left:1942.0px;-webkit-text-stroke:0.45px currentColor;">Personas</div>
<div class="a" style="left:2117.0px;top:14.0px;width:202.0px;height:74.0px;background:#f1f1f1;"></div>
<div class="a" style="left:2119.0px;top:16.9px;width:198.0px;height:70.2px;background:#e9f0fd;border-radius:8px;"></div>
<div class="a" style="left:2111.4px;top:8.3px;width:213.6px;height:85.3px;border-radius:3px;border:6px solid #f0913a;box-sizing:border-box;box-shadow:0 1px 6px rgba(0,0,0,.2);"></div>
<svg class="a" style="left:2140.3px;top:31.0px;" width="42.0" height="41.0" viewBox="0 0 42 41"><rect x="2.400" y="2.300" width="35" height="22.300" rx="4" fill="none" stroke="#2b5fd9" stroke-width="4.600"/><path d="M13.600 13.300l4.600 5l7.900-7.900" fill="none" stroke="#2b5fd9" stroke-width="3.800" stroke-linejoin="miter"/><path d="M2.600 29h34.800a6 6 0 0 1-3 4.300h-28.800a6 6 0 0 1-3-4.300z" fill="#2b5fd9"/><path d="M4.800 35.900h30.400a5 5 0 0 1-4.500 4.300h-21.400a5 5 0 0 1-4.500-4.300z" fill="#2b5fd9"/></svg>
<div class="t" style="top:36.78px;font-size:32.394999999999996px;line-height:32.394999999999996px;color:#2b5fd9;letter-spacing:-0.516px;left:2199.0px;-webkit-text-stroke:0.45px currentColor;">Issues</div>
<svg class="a" style="left:2354.0px;top:32.0px;" width="31.0" height="39.0" viewBox="0 0 31 39"><path d="M9 17H5.5a3 3 0 0 0-3 3v13.5a3 3 0 0 0 3 3h20a3 3 0 0 0 3-3V20a3 3 0 0 0-3-3H22" fill="none" stroke="#172b4d" stroke-width="4.4" stroke-linecap="round" stroke-linejoin="round"/><path d="M15.5 27V3.5M7.5 10.5l8-8l8 8" fill="none" stroke="#172b4d" stroke-width="4.4" stroke-linecap="round" stroke-linejoin="round"/></svg>
<svg class="a" style="left:2438.0px;top:32.0px;" width="39.0" height="39.0" viewBox="0 0 39 39"><path d="M7 19.5L32 6.5M7 19.5L32 32.5" stroke="#172b4d" stroke-width="4.2"/><circle cx="7" cy="19.5" r="4.6" fill="#fff" stroke="#172b4d" stroke-width="4"/><circle cx="32" cy="6.5" r="4.6" fill="#fff" stroke="#172b4d" stroke-width="4"/><circle cx="32" cy="32.5" r="4.6" fill="#fff" stroke="#172b4d" stroke-width="4"/></svg>
<svg class="a" style="left:2526.0px;top:33.5px;" width="40.0" height="36.0" viewBox="0 0 40 36"><path d="M20 2.5c9.7 0 17.5 6.3 17.5 14c0 4.3-2.4 8.100-6.200 10.700l3.400 6.300l-8.700-3.900c-1.900 0.600-3.900 0.900-6 0.900c-9.700 0-17.500-6.300-17.500-14s7.800-14 17.500-14z" fill="none" stroke="#172b4d" stroke-width="4.2" stroke-linejoin="round"/><path d="M11 13.500h18M11 20.500h9" stroke="#172b4d" stroke-width="3.8" stroke-linecap="round"/></svg>
<svg class="a" style="left:2614.0px;top:36.0px;" width="40.0" height="31.0" viewBox="0 0 40 31"><rect x="2.300" y="2.300" width="35.400" height="26.400" rx="3.200" fill="none" stroke="#172b4d" stroke-width="4.600"/><rect x="2.300" y="2.300" width="35.400" height="10.200" fill="#172b4d"/><circle cx="6.800" cy="7.300" r="2" fill="#fff"/><path d="M14.500 7.300h18.500" stroke="#fff" stroke-width="3.400" stroke-linecap="round"/></svg>
<div class="t" style="top:33.26px;font-size:37.5px;line-height:37.5px;color:#172b4d;left:2711.6px;-webkit-text-stroke:0.9px currentColor;">?</div>
<svg class="a" style="left:2796.0px;top:48.8px;" width="27.6" height="7.0" viewBox="0 0 27.6 7.0"><circle cx="3.5" cy="3.5" r="3.5" fill="#172b4d"/><circle cx="13.8" cy="3.5" r="3.5" fill="#172b4d"/><circle cx="24.1" cy="3.5" r="3.5" fill="#172b4d"/></svg>
</div>
</body></html>
